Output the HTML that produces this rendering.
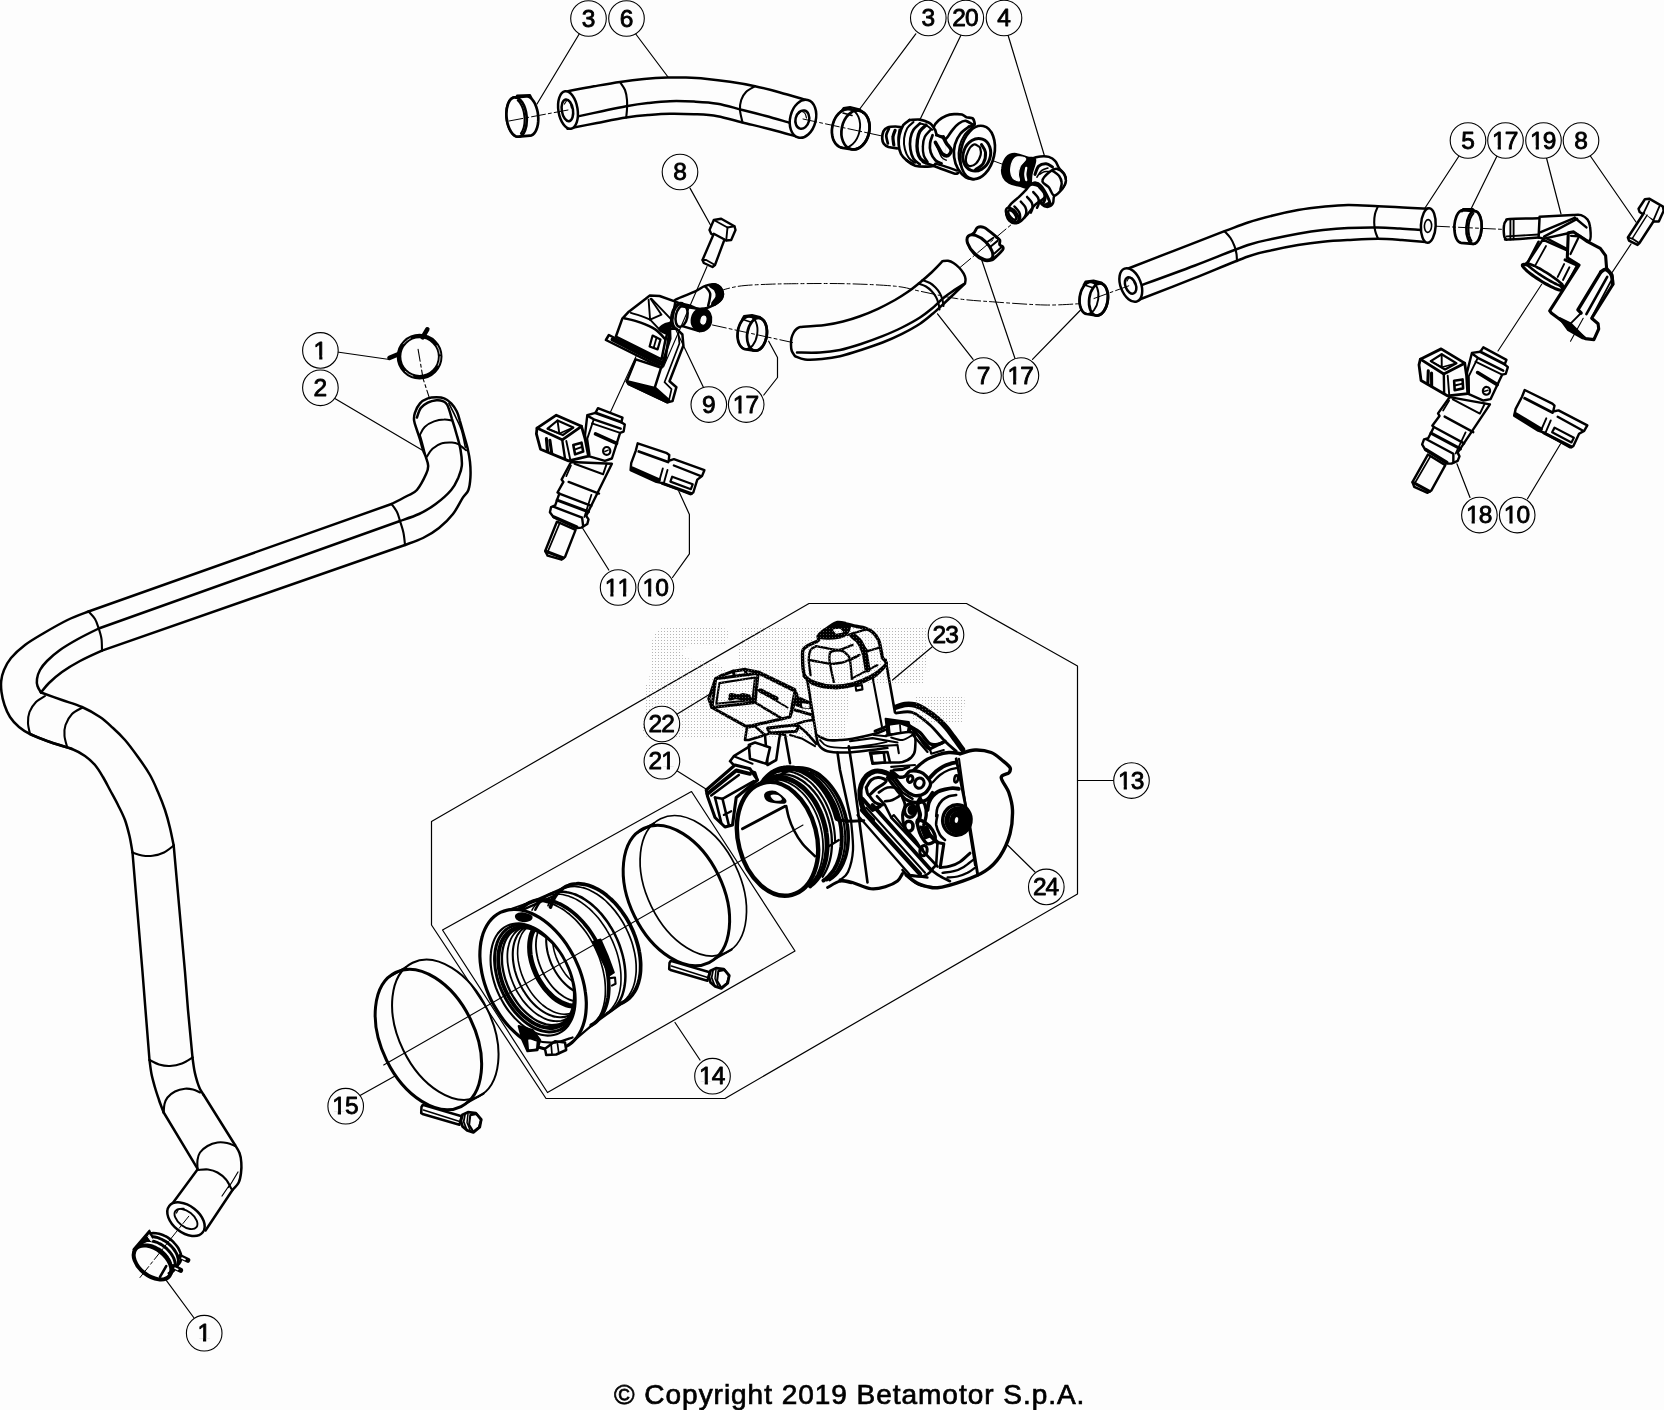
<!DOCTYPE html>
<html><head><meta charset="utf-8"><title>Betamotor throttle body</title>
<style>
html,body{margin:0;padding:0;background:#fdfdfd;}
body{width:1664px;height:1410px;overflow:hidden;position:relative;font-family:"Liberation Sans",sans-serif;}
svg{position:absolute;left:0;top:0;display:block;will-change:transform;}
.lb{font-family:"Liberation Sans",sans-serif;font-size:24.5px;text-anchor:middle;fill:#000;stroke:#000;stroke-width:.85px;}
.cp{position:absolute;left:614px;top:1380px;font-size:28px;letter-spacing:.97px;line-height:30px;white-space:nowrap;color:#000;-webkit-text-stroke:.7px #000;}
</style></head><body>
<svg width="1664" height="1410" viewBox="0 0 1664 1410" fill="none" stroke-linecap="round" stroke-linejoin="round">
<defs>
<pattern id="dots" width="3" height="3" patternUnits="userSpaceOnUse"><rect x="1" y="1" width="1" height="1" fill="#8a8a8a"/></pattern>
</defs>
<path d="M88.5 611.5L391.5 504" fill="none" stroke="#000" stroke-width="2.5" />
<path d="M98.7 628.5L400 521" fill="none" stroke="#000" stroke-width="2.5" />
<path d="M102 650.6L405 545" fill="none" stroke="#000" stroke-width="2.5" />
<path d="M88.5 611.5C89.6 612.8 93.3 616.2 95 619C96.7 621.8 97.6 625.2 98.7 628.5C99.8 631.8 101 635.3 101.5 639C102 642.7 101.9 648.7 102 650.6" fill="none" stroke="#000" stroke-width="2.1" />
<path d="M391.5 504C392.4 505.3 395.6 509.2 397 512C398.4 514.8 398.9 517.5 400 521C401.1 524.5 402.7 529 403.5 533C404.3 537 404.8 543 405 545" fill="none" stroke="#000" stroke-width="2.1" />
<path d="M391.5 504C394.1 502.7 402.8 498.3 407 496C411.2 493.7 413.7 493.7 416.9 490C420.1 486.3 424.4 477.8 426.2 473.8C428.1 469.7 428.2 468.5 428.2 465.9C428.2 463.3 427.1 460.7 426.2 458.1C425.4 455.5 424.2 453.4 423.1 450.3C422.1 447.2 421 442.8 420 439.4C419 436 417.9 433.1 416.9 430C415.9 426.9 414.5 423.5 414.1 420.6C413.8 417.8 413.9 415.7 414.9 412.8C415.9 409.9 417.9 405.8 420 403.4C422.1 401 425.1 399.4 427.8 398.4C430.5 397.3 433.7 397.2 436.4 397.2C439.1 397.2 441.7 397.3 444.2 398.4C446.7 399.4 449.2 401.3 451.2 403.4C453.3 405.6 455.3 408.4 456.7 411.2C458.2 414.1 458.7 416.7 459.8 420.6C461 424.5 462.4 430 463.8 434.7C465.1 439.4 466.6 444.2 467.7 448.8C468.7 453.3 469.5 457.2 470 462C470.5 466.8 470.7 473 470.4 477.7C470.1 482.3 469.7 486.7 468.4 490C467.2 493.3 465.6 493.4 463 497.4C460.4 501.4 457 508.9 453 514C449 519.1 444 524 439 528C434 532 428.7 535.2 423 538C417.3 540.8 408 543.8 405 545" fill="none" stroke="#000" stroke-width="2.5" />
<path d="M416.9 417.5C417.5 415.9 419 410.6 420.8 408.1C422.6 405.7 425.2 404 427.8 402.7C430.4 401.4 433.9 400.6 436.4 400.3C438.9 400.1 440.8 400.3 442.7 401.1C444.5 401.9 445.8 402 447.3 405C448.9 408 450.5 414.1 452 419.1C453.6 424 455.3 429.5 456.7 434.7C458.2 439.9 459.8 445.1 460.6 450.3C461.5 455.5 462.2 461.4 461.8 465.9C461.4 470.5 460 473.6 458.3 477.7C456.5 481.7 455 485.6 451.2 490C447.5 494.4 441.1 500 435.7 504C430.3 508 424.9 511.2 419 514C413.1 516.8 403.2 519.8 400 521" fill="none" stroke="#000" stroke-width="2.5" />
<path d="M448.9 403.4C450.1 405.8 453.9 413.1 455.9 417.5C458 421.9 459.8 425.1 461.4 430C463 434.9 464.7 444.3 465.3 447.2" fill="none" stroke="#000" stroke-width="1.6" />
<path d="M420 434.7C420.5 436.5 422.1 441.7 423.1 445.6C424.2 449.5 425.7 456 426.2 458.1" fill="none" stroke="#000" stroke-width="1.6" />
<path d="M420 434.7C420.8 433.4 422.3 429.1 424.7 426.9C427 424.7 430.8 422.6 434.1 421.4C437.3 420.2 441.2 419.6 444.2 419.5C447.2 419.3 450.7 420.4 452 420.6" fill="none" stroke="#000" stroke-width="2" />
<path d="M427 456.6C427.9 455.3 430 451 432.5 448.8C435 446.5 438.6 444.3 441.9 443.3C445.1 442.2 449.3 442.4 452 442.5C454.8 442.6 455.9 442.8 458.3 444.1C460.6 445.4 464.8 449.3 466.1 450.3" fill="none" stroke="#000" stroke-width="2" />
<path d="M88.5 611.5C85 612.9 74.9 616.4 67.5 620C60.1 623.6 51.1 628.8 44 633C36.9 637.2 30.5 640.8 25 645C19.5 649.2 14.5 653.8 11 658C7.5 662.2 5.6 666.2 4 670C2.4 673.8 1.6 677.3 1.2 681C0.8 684.7 1 688 1.5 692C2 696 3.1 700.8 4.5 705C5.9 709.2 7.6 713.3 10 717C12.4 720.7 15.7 724.2 19 727C22.3 729.8 24.8 731.5 30 734C35.2 736.5 43 739.5 50 742C57 744.5 68.3 747.8 72 749" fill="none" stroke="#000" stroke-width="2.5" />
<path d="M98.7 628.5C95.2 630.2 84.5 635.4 78 639C71.5 642.6 65.2 646.3 60 650C54.8 653.7 50.3 657.7 47 661C43.7 664.3 41.7 667 40 670C38.3 673 37.4 676.3 37 679C36.6 681.7 36.8 683.8 37.5 686C38.2 688.2 40.4 691.4 41 692.5" fill="none" stroke="#000" stroke-width="2.5" />
<path d="M102 650.6C98.3 652.3 86.7 657.4 80 661C73.3 664.6 67.2 668.3 62 672C56.8 675.7 52.5 679.6 49 683C45.5 686.4 42.3 690.9 41 692.5" fill="none" stroke="#000" stroke-width="2.5" />
<path d="M41 692.5C44.5 693.8 55.2 697.6 62 700C68.8 702.4 75.7 704.2 82 707C88.3 709.8 94.8 713.5 100 717C105.2 720.5 108.8 724.2 113 728C117.2 731.8 120.8 735.2 125 740C129.2 744.8 133.8 751.2 138 757C142.2 762.8 146.7 769.2 150 775C153.3 780.8 155.5 786.2 158 792C160.5 797.8 163 804 165 810C167 816 168.6 822.1 170 828C171.4 833.9 173.1 842.6 173.7 845.5" fill="none" stroke="#000" stroke-width="2.5" />
<path d="M30 734C33.3 735.3 43 739.5 50 742C57 744.5 66.2 746.7 72 749C77.8 751.3 81.2 753.3 85 756C88.8 758.7 92 761.5 95 765C98 768.5 100.5 772.8 103 777C105.5 781.2 107.5 785.3 110 790C112.5 794.7 115.5 800 118 805C120.5 810 123.1 814.8 125 820C126.9 825.2 128.2 830.6 129.5 836C130.8 841.4 132 849.8 132.5 852.5" fill="none" stroke="#000" stroke-width="2.5" />
<path d="M45 696C43.5 697 38.6 699.3 36 702C33.4 704.7 30.8 708.5 29.5 712C28.2 715.5 27.9 719.3 28 723C28.1 726.7 29.7 732.2 30 734" fill="none" stroke="#000" stroke-width="2.1" />
<path d="M82.5 707.5C80.8 708.6 74.8 711.1 72 714C69.2 716.9 66.8 721.3 65.5 725C64.2 728.7 64.2 732.4 64.5 736C64.8 739.6 66.6 744.8 67 746.5" fill="none" stroke="#000" stroke-width="2.1" />
<path d="M132.5 852.5L142.5 972L145.5 1010L149.5 1060" fill="none" stroke="#000" stroke-width="2.5" />
<path d="M173.7 845.5L185 972L188 1010L192.5 1057.5" fill="none" stroke="#000" stroke-width="2.5" />
<path d="M132.5 852.5C134.1 853 138.7 855 142 855.5C145.3 856 148.8 856.3 152.5 855.8C156.2 855.3 160.5 854.2 164 852.5C167.5 850.8 172.1 846.7 173.7 845.5" fill="none" stroke="#000" stroke-width="2.1" />
<path d="M149.5 1060C151.1 1060.8 155.6 1063.5 159 1064.5C162.4 1065.5 166.2 1066.2 170 1066C173.8 1065.8 178.2 1064.9 182 1063.5C185.8 1062.1 190.8 1058.5 192.5 1057.5" fill="none" stroke="#000" stroke-width="2.1" />
<path d="M149.5 1060C149.8 1062.3 150.6 1069.4 151.5 1074C152.4 1078.6 153.8 1083.2 155 1087.5C156.2 1091.8 157.6 1095.8 159 1100C160.4 1104.2 162.9 1110.4 163.7 1112.5" fill="none" stroke="#000" stroke-width="2.5" />
<path d="M163.7 1112.5L197.5 1168.7" fill="none" stroke="#000" stroke-width="2.5" />
<path d="M192.5 1057.5C192.8 1059.8 193.7 1066.8 194.5 1071C195.3 1075.2 196.6 1079.5 197.5 1082.5C198.4 1085.5 199 1086.9 200 1089C201 1091.1 203.1 1094 203.7 1095" fill="none" stroke="#000" stroke-width="2.5" />
<path d="M203.7 1095L235 1145" fill="none" stroke="#000" stroke-width="2.5" />
<path d="M235 1145C235.8 1146.3 238.4 1150.1 239.5 1153C240.6 1155.9 241.1 1159.2 241.3 1162.5C241.6 1165.8 241.4 1169.7 241 1173C240.6 1176.3 240.1 1179.7 238.7 1182.5C237.3 1185.3 233.5 1188.8 232.5 1190" fill="none" stroke="#000" stroke-width="2.5" />
<path d="M163.7 1112.5C163.8 1111.1 163.9 1106.5 164.5 1104C165.1 1101.5 165.8 1099.6 167.5 1097.5C169.2 1095.4 172.1 1093 175 1091.5C177.9 1090 182 1089 185 1088.7C188 1088.4 190.5 1088.9 193 1089.5C195.5 1090.1 198.8 1092 200 1092.5" fill="none" stroke="#000" stroke-width="2.1" />
<path d="M197.5 1168.7C197.5 1167.2 197.1 1162.7 197.5 1160C197.9 1157.3 198.3 1154.8 200 1152.5C201.7 1150.2 204.6 1147.7 207.5 1146C210.4 1144.3 214.2 1143 217.5 1142.5C220.8 1142 224.1 1142.4 227 1143C229.9 1143.6 233.7 1145.5 235 1146" fill="none" stroke="#000" stroke-width="2.1" />
<path d="M197.5 1169.5L169.5 1207.5" fill="none" stroke="#000" stroke-width="2.5" />
<path d="M232.5 1190L205.5 1230.5" fill="none" stroke="#000" stroke-width="2.5" />
<path d="M238 1172L232 1182L228.5 1187.5" fill="none" stroke="#000" stroke-width="1.2" />
<path d="M198.7 1170C200.2 1169.9 204.9 1169.1 208 1169.5C211.1 1169.9 214.5 1170.8 217.5 1172.5C220.5 1174.2 223.7 1176.8 226 1179.5C228.3 1182.2 230.4 1187.2 231.3 1188.7" fill="none" stroke="#000" stroke-width="2.1" />
<path d="M229.5 1185L222 1196" fill="none" stroke="#000" stroke-width="1.2" />
<ellipse cx="186" cy="1219.2" rx="21.3" ry="13.4" transform="rotate(38 186 1219.2)" fill="#fdfdfd" stroke="#000" stroke-width="2.5"/>
<ellipse cx="186" cy="1219" rx="13.3" ry="7.6" transform="rotate(38 186 1219)" fill="none" stroke="#000" stroke-width="1.9"/>
<path d="M176.5 1213C176.9 1212.3 177.8 1209.8 179 1209C180.2 1208.2 183.2 1208.6 184 1208.5" fill="none" stroke="#000" stroke-width="1.3" />
<path d="M568 91.2C572.3 90.4 585.3 87.8 594 86.3C602.7 84.8 611.7 83.2 620 82C628.3 80.8 636.1 79.8 644 79C651.9 78.2 660.5 77.7 667.5 77.5C674.5 77.3 679.8 77.4 686 77.6C692.2 77.8 697.7 78 705 78.7C712.3 79.4 721.7 80.5 730 81.8C738.3 83 746.7 84.4 755 86.2C763.3 88 771.5 90.2 780 92.5C788.5 94.8 801.7 98.8 806 100L800 137.5C795.2 136.2 780.6 132 771 129.5C761.4 127 751.4 124.7 742.5 122.5C733.6 120.3 725.6 117.6 717.5 116.2C709.4 114.8 701.9 114.6 694 114.2C686.1 113.8 677.7 113.6 670 113.7C662.3 113.8 655.3 114.4 648 115C640.7 115.6 634.7 116.2 626.2 117.5C617.7 118.8 606.8 121.1 597 123C587.2 124.9 572.4 127.7 567.5 128.7Z" fill="#fdfdfd" stroke="#000" stroke-width="2.5" />
<path d="M578 116.4C582 115.5 594 112.9 602 111.2C610 109.5 618.5 107.6 626.2 106.2C633.9 104.8 640.7 103.8 648 103C655.3 102.2 662.3 101.4 670 101.2C677.7 101 686.1 101.2 694 101.6C701.9 102 709.4 102.3 717.5 103.7C725.6 105.1 734.4 108 742.5 110C750.6 112 758.1 113.9 766 116C773.9 118.1 786 121.7 790 122.8" fill="none" stroke="#000" stroke-width="2.5" />
<path d="M620 82C620.8 83.3 623.8 87 625 90C626.2 93 626.7 96.8 627 100C627.3 103.2 627.1 106.1 627 109C626.9 111.9 626.3 116.1 626.2 117.5" fill="none" stroke="#000" stroke-width="2.1" />
<path d="M755 86.2C753.5 87.2 748.3 89.7 746 92C743.7 94.3 742.2 97 741.2 100C740.2 103 739.8 106.2 740 110C740.2 113.8 742.1 120.4 742.5 122.5" fill="none" stroke="#000" stroke-width="2.1" />
<ellipse cx="568" cy="110" rx="9.6" ry="18.9" transform="rotate(-9 568 110)" fill="#fdfdfd" stroke="#000" stroke-width="2.5"/>
<ellipse cx="567.4" cy="110.3" rx="5.6" ry="11" transform="rotate(-9 567.4 110.3)" fill="none" stroke="#000" stroke-width="2.5"/>
<path d="M564.5 104C564.9 103.4 566.1 100.8 567 100.5C567.9 100.2 569.2 101.2 570 102.5C570.8 103.8 571.2 107.1 571.5 108" fill="none" stroke="#000" stroke-width="1.2" />
<ellipse cx="803" cy="118.8" rx="12.8" ry="19.3" transform="rotate(14 803 118.8)" fill="#fdfdfd" stroke="#000" stroke-width="2.5"/>
<ellipse cx="802.3" cy="119.6" rx="6.8" ry="9.3" transform="rotate(14 802.3 119.6)" fill="none" stroke="#000" stroke-width="2.5"/>
<path d="M798.5 114C799 113.6 800.4 111.6 801.5 111.5C802.6 111.4 804.2 112.4 805 113.5C805.8 114.6 806.2 117.2 806.5 118" fill="none" stroke="#000" stroke-width="1.2" />
<path d="M526.2 96.3L527.8 96.4L529.4 97L530.9 98.1L532.4 99.7L533.8 101.6L535.1 103.9L536.1 106.4L537 109.3L537.7 112.2L538.1 115.3L538.3 118.4L538.2 121.4L537.9 124.3L537.3 127L536.5 129.4L535.5 131.5L534.3 133.2L533 134.5L531.5 135.4L530 135.7L518.5 136.7L516.9 136.6L515.3 136L513.8 134.9L512.3 133.3L510.9 131.4L509.6 129.1L508.6 126.6L507.7 123.7L507 120.8L506.6 117.7L506.4 114.6L506.5 111.6L506.8 108.7L507.4 106L508.2 103.6L509.2 101.5L510.4 99.8L511.7 98.5L513.2 97.6L514.7 97.3Z" fill="#fdfdfd" stroke="#000" stroke-width="2.7" />
<ellipse cx="516.6" cy="117" rx="10" ry="19.8" transform="rotate(-6 516.6 117)" fill="#fdfdfd" stroke="#000" stroke-width="2.7"/>
<path d="M517.7 100.3C518 100.6 518.7 101.2 519.1 101.8C519.6 102.3 520 102.9 520.4 103.6C520.9 104.3 521.2 105 521.6 105.8C522 106.5 522.3 107.3 522.6 108.2C522.9 109 523.2 109.9 523.4 110.8C523.7 111.7 523.9 112.7 524 113.6C524.2 114.6 524.3 115.5 524.4 116.5C524.5 117.4 524.6 118.4 524.6 119.4C524.6 120.3 524.6 121.3 524.5 122.2C524.5 123.1 524.4 124.1 524.2 124.9C524.1 125.8 523.9 126.7 523.7 127.5C523.5 128.3 523.2 129 522.9 129.7C522.7 130.5 522.3 131.1 522 131.7C521.7 132.3 521.1 133.1 520.9 133.4" fill="none" stroke="#000" stroke-width="2" />
<path d="M516 98L517 95.5L530 95L531.5 98" fill="none" stroke="#000" stroke-width="2" />
<path d="M842.6 147.9L840.5 147.4L838.6 146.4L836.8 144.9L835.2 143.1L833.9 140.9L832.9 138.4L832.3 135.7L831.9 132.7L831.9 129.7L832.3 126.7L833 123.6L834 120.7L835.3 118L836.9 115.6L838.7 113.5L840.7 111.7L842.8 110.4L845 109.5L847.2 109.1L849.4 109.1L858.9 110.6L861 111.1L862.9 112.1L864.7 113.6L866.3 115.4L867.6 117.6L868.6 120.1L869.2 122.8L869.6 125.8L869.6 128.8L869.2 131.8L868.5 134.9L867.5 137.8L866.2 140.5L864.6 142.9L862.8 145L860.8 146.8L858.7 148.1L856.5 149L854.3 149.4L852.1 149.4Z" fill="#fdfdfd" stroke="#000" stroke-width="2.7" />
<ellipse cx="846" cy="128.5" rx="13.8" ry="19.7" transform="rotate(12 846 128.5)" fill="none" stroke="#000" stroke-width="1.9"/>
<ellipse cx="855.5" cy="130" rx="13.8" ry="19.7" transform="rotate(12 855.5 130)" fill="none" stroke="#000" stroke-width="2.7"/>
<path d="M841 111.5L843.5 108L850 107L860 109.5L863 113" fill="none" stroke="#000" stroke-width="2" />
<path d="M843 113L852 115.5" fill="none" stroke="#000" stroke-width="1.6" />
<line x1="509" y1="121" x2="568" y2="110" stroke="#000" stroke-width="1" stroke-dasharray="14 3 3 3"/>
<line x1="803" y1="119" x2="896" y2="139" stroke="#000" stroke-width="1" stroke-dasharray="14 3 3 3"/>
<line x1="991" y1="160" x2="1010" y2="167" stroke="#000" stroke-width="1" stroke-dasharray="14 3 3 3"/>
<path d="M901.8 127.4C900.7 127.3 897.9 126.5 895.5 126.5C893.2 126.5 889.7 126.6 887.7 127.4C885.7 128.2 884.3 129.5 883.4 131.3C882.5 133.2 882.2 136.3 882.2 138.4C882.3 140.5 882.8 142.4 883.8 143.8C884.9 145.3 886.3 146.2 888.5 147C890.7 147.7 895.7 148.1 897.1 148.3" fill="#fdfdfd" stroke="#000" stroke-width="2.7" />
<path d="M888.9 128.8C888.5 129.9 886.5 132.8 886.3 135.2C886.1 137.7 887.6 142.1 887.9 143.5" fill="none" stroke="#000" stroke-width="2.7" />
<path d="M895.1 130.4C894.8 131.5 893.2 134.4 893 136.8C892.7 139.2 893.7 143.6 893.8 145" fill="none" stroke="#000" stroke-width="3.2" />
<path d="M899.4 129.8C899.2 131.1 898.3 134.9 898.3 137.6C898.3 140.3 899.2 144.8 899.4 146.2" fill="none" stroke="#000" stroke-width="2" />
<path d="M909.6 120C906.9 120.9 905 122.6 903.3 125.1C901.7 127.6 900.2 132 899.4 135.2C898.7 138.5 898.4 141.5 898.7 144.6C898.9 147.8 899.7 151.4 901 154C902.3 156.6 904.1 158.3 906.5 160.2C908.8 162.2 911 164.7 915.1 165.7C919.1 166.8 927.3 166.8 930.7 166.5C934.1 166.2 933.6 164.7 935.4 164.2C937.2 163.6 939.8 167.7 941.6 163.4C943.4 159.1 947.6 144.5 946.3 138.4C945 132.3 936.7 129.3 933.8 126.7C930.9 124.1 931.5 123.9 929.1 122.8C926.8 121.6 923 120.1 919.8 119.6C916.5 119.2 912.3 119.1 909.6 120Z" fill="#fdfdfd" stroke="#000" stroke-width="0.1" />
<path d="M909.6 120C908.6 120.9 905 122.6 903.3 125.1C901.7 127.6 900.2 132 899.4 135.2C898.7 138.5 898.4 141.5 898.7 144.6C898.9 147.8 899.7 151.4 901 154C902.3 156.6 904.4 158.5 906.5 160.2C908.6 162 912.3 163.6 913.5 164.3" fill="none" stroke="#000" stroke-width="2.7" />
<path d="M909.6 120C911.3 120 916.5 119.2 919.8 119.6C923 120.1 926.8 121.6 929.1 122.8C931.4 123.9 932.7 126.1 933.4 126.8" fill="none" stroke="#000" stroke-width="2.7" />
<path d="M913.5 122C912.5 123 908.8 125.5 907.2 128.2C905.7 131 904.5 134.9 904.1 138.4C903.7 141.9 904.1 146.1 904.9 149.3C905.7 152.6 907.1 155.7 908.8 157.9C910.5 160.1 914 161.9 915.1 162.8" fill="none" stroke="#000" stroke-width="2" />
<path d="M919.8 123.5C918.7 124.6 915.1 127.3 913.5 129.8C911.9 132.3 910.9 135.1 910.4 138.4C909.9 141.6 909.9 145.9 910.4 149.3C910.9 152.7 911.9 156.2 913.5 158.7C915.1 161.2 918.7 163.4 919.8 164.3" fill="none" stroke="#000" stroke-width="2.7" />
<path d="M926 125.1C925 126.1 921.2 128.9 919.8 131.3C918.3 133.8 917.8 136.7 917.4 139.9C917 143.2 916.9 147.8 917.4 150.9C917.9 154 919.1 156.7 920.5 158.7C922 160.7 925.1 162.1 926 162.8" fill="none" stroke="#000" stroke-width="3.4" />
<path d="M930.7 129.8C929.7 131 926.1 134.1 924.8 136.8C923.5 139.5 923 143.1 922.9 146.2C922.7 149.3 923 152.9 923.8 155.6C924.6 158.2 926.9 160.9 927.6 162" fill="none" stroke="#000" stroke-width="2.4" />
<path d="M906.5 160.2C907.9 161.2 911 164.7 915.1 165.7C919.1 166.8 927.3 166.7 930.7 166.5C934.1 166.3 934.6 164.7 935.4 164.3" fill="none" stroke="#000" stroke-width="2.7" />
<path d="M919.8 123.5C920.8 123.8 923.9 124.1 926 125.1C928.1 126.1 931.2 129 932.2 129.8" fill="none" stroke="#000" stroke-width="2" />
<path d="M932.6 135.2C932.2 136.6 930.4 140.2 930.1 143.1C929.7 145.9 929.8 149.6 930.7 152.4C931.6 155.3 933.6 158.4 935.4 160.2C937.2 162.1 940.6 163 941.6 163.5" fill="none" stroke="#000" stroke-width="2.7" />
<path d="M922.9 162C925.5 162.9 933.3 165.7 938.5 167.7C943.7 169.6 950.8 172.7 954.1 173.5C957.4 174.4 957.7 172.9 958.4 172.8" fill="none" stroke="#000" stroke-width="2.7" />
<path d="M935.4 163.5C937.2 164.1 942.7 165.7 946.3 166.9C950 168.1 955.4 170 957.2 170.6" fill="none" stroke="#000" stroke-width="2.2" />
<path d="M933.8 126.8C934.3 125.1 936.4 122.3 938.5 120.4C940.6 118.6 943.7 116.8 946.3 115.7C948.9 114.7 951.5 114.4 954.1 114.2C956.7 114 959.9 114 961.9 114.5C964 115.1 964.8 116.6 966.6 117.3C968.4 117.9 971.6 117.1 972.9 118.5C974.1 119.8 975.4 124.9 974.2 125.2C973 125.6 968.4 121.1 965.8 120.8C963.3 120.5 961 122 958.8 123.5C956.6 125 954.6 127.3 952.6 129.8C950.5 132.3 948 137.1 946.3 138.4C944.6 139.7 944 138.2 942.4 137.6C940.8 137 938.1 135.8 936.9 134.6C935.8 133.5 935.9 131.9 935.4 130.6C934.9 129.3 933.3 128.5 933.8 126.8Z" fill="#fdfdfd" stroke="#000" stroke-width="2.7" />
<path d="M935.4 142.3C935.9 143.2 937.3 145.8 938.5 147.8C939.7 149.7 940.8 152.7 942.4 154C944 155.3 946.4 156.2 947.9 155.6C949.3 154.9 951.4 152.2 951.2 150.1C950.9 148 947.6 145.2 946.3 143.1C945 140.9 943.8 138 943.3 137" fill="none" stroke="#000" stroke-width="3.6" />
<path d="M936.2 135.2L943.2 136.8" fill="none" stroke="#000" stroke-width="2.6" />
<path d="M936.2 144.6C937.1 146.7 939.9 154.5 941.6 157.1C943.3 159.7 945.5 159.7 946.3 160.2" fill="none" stroke="#000" stroke-width="1.4" />
<path d="M969 126.7C967.5 127.8 962.7 130.7 960.4 133.7C958 136.7 955.9 140.7 954.9 144.6C953.9 148.5 953.6 153.1 954.1 157.1C954.6 161.2 956.1 165.5 958 168.8C960 172.2 963.2 175.7 965.8 177.4C968.5 179.2 972.5 178.9 973.8 179.2" fill="none" stroke="#000" stroke-width="2.7" />
<path d="M972.1 127.4C970.8 128.7 966.4 132.1 964.3 135.2C962.2 138.4 960.5 142.3 959.6 146.2C958.7 150.1 958.3 154.8 958.8 158.7C959.3 162.6 960.9 166.6 962.7 169.6C964.5 172.6 968.6 175.6 969.8 176.8" fill="none" stroke="#000" stroke-width="2" />
<path d="M969 126.7L972.9 126" fill="none" stroke="#000" stroke-width="2.7" />
<ellipse cx="977.6" cy="152.4" rx="16.8" ry="27" transform="rotate(12 977.6 152.4)" fill="#fdfdfd" stroke="#000" stroke-width="2.7"/>
<ellipse cx="976.8" cy="154.8" rx="13.5" ry="16.6" transform="rotate(20 976.8 154.8)" fill="none" stroke="#000" stroke-width="3"/>
<path d="M978.3 146.2C977.3 145.7 975.3 143.8 973.7 144.6C972 145.4 969.5 148.3 968.2 150.9C966.9 153.5 965.7 157.8 965.8 160.2C966 162.8 967.3 165.3 969 165.9C970.7 166.4 974 165.4 976 163.5C978 161.7 980 157.4 980.7 154.8C981.4 152.2 980.5 149.2 980.1 147.8C979.7 146.3 979.4 146.7 978.3 146.2Z" fill="none" stroke="#000" stroke-width="2.2" />
<path d="M981.5 144.6C982.1 145.9 985.2 149.3 985.5 152.4C985.8 155.6 984.9 160.5 983.2 163.4C981.5 166.3 976.7 168.7 975.4 169.8" fill="none" stroke="#000" stroke-width="3" />
<path d="M1031.3 159.7C1033.5 156.7 1037.6 156.9 1040.5 156.4C1043.5 156 1046.4 156.1 1048.8 156.9C1051.3 157.7 1053.6 159.2 1055.3 161.1C1057 162.9 1057.4 165.7 1059 168C1060.5 170.2 1063.4 172.3 1064.5 174.4C1065.7 176.6 1066.2 178.6 1065.9 180.9C1065.6 183.2 1064.6 185.8 1062.7 188.3C1060.7 190.7 1056 193.2 1054.4 195.6C1052.8 198.1 1054.1 201.2 1053 203C1051.9 204.9 1049.7 206.4 1047.9 206.7C1046.1 207 1043.8 206.2 1042.4 204.9C1041 203.5 1041.6 201.2 1039.6 198.4C1037.6 195.6 1032.4 192.3 1030.4 188.3C1028.4 184.3 1027.5 179.2 1027.6 174.4C1027.8 169.7 1029.2 162.7 1031.3 159.7Z" fill="#fdfdfd" stroke="#000" stroke-width="2.5" />
<path d="M1042.4 180.9C1042.5 178.3 1047.3 173.7 1049.8 171.7C1052.2 169.7 1054.8 168.6 1057.1 168.9C1059.4 169.2 1062.1 171.5 1063.6 173.5C1065 175.5 1066 178.4 1065.9 180.9C1065.7 183.3 1064.6 185.8 1062.7 188.3C1060.7 190.7 1056.7 195.8 1054.4 195.6C1052.1 195.5 1050.8 189.8 1048.8 187.3C1046.8 184.9 1042.2 183.5 1042.4 180.9Z" fill="#fdfdfd" stroke="#000" stroke-width="2.5" />
<path d="M1052.5 170.7C1053.6 171.6 1057.4 173.8 1059 175.8C1060.5 177.8 1061.5 180.5 1061.7 182.7C1062 185 1060.6 188.1 1060.4 189.2" fill="none" stroke="#000" stroke-width="2.5" />
<path d="M1035 174.4C1035.6 173 1036.9 167.9 1038.7 166.1C1040.5 164.4 1043.8 163.7 1046.1 163.8C1048.4 164 1051.5 166.5 1052.5 167" fill="none" stroke="#000" stroke-width="3" />
<path d="M1036.9 177.2C1037.6 176.1 1039.6 172.3 1041.5 170.7C1043.3 169.2 1046.8 168.4 1047.9 168" fill="none" stroke="#000" stroke-width="1.6" />
<path d="M1039.6 174.4C1040.4 174 1042.5 172.1 1044.2 171.7C1045.9 171.2 1048.8 171.7 1049.8 171.7" fill="none" stroke="#000" stroke-width="1.6" />
<path d="M1006.4 157.8C1008.5 155.4 1011.2 154.1 1014.7 154.1C1018.3 154.1 1024.3 156.9 1027.6 157.8C1031 158.8 1034.4 156.9 1035 159.7C1035.6 162.4 1032.2 169.8 1031.3 174.4C1030.4 179 1031.5 185.5 1029.5 187.3C1027.5 189.2 1022.7 186.3 1019.3 185.5C1016 184.7 1011.8 184.1 1009.2 182.7C1006.6 181.3 1004.8 179.5 1003.7 177.2C1002.5 174.9 1001.8 172.1 1002.3 168.9C1002.7 165.7 1004.4 160.3 1006.4 157.8Z" fill="#000" stroke="#000" stroke-width="2.5" />
<path d="M1012.4 161.5C1013.6 159.2 1015.3 157.4 1017.5 156.9C1019.7 156.4 1025.3 157.2 1025.8 158.8C1026.2 160.3 1021.5 163.5 1020.3 166.1C1019 168.7 1018.6 172 1018.4 174.4C1018.3 176.9 1020.3 180.3 1019.3 180.9C1018.4 181.5 1014.3 179.8 1012.9 178.1C1011.4 176.4 1010.7 173.5 1010.6 170.7C1010.5 168 1011.3 163.8 1012.4 161.5Z" fill="#fdfdfd" stroke="#fdfdfd" stroke-width="1.1" />
<path d="M1026.2 168C1026.1 169 1025.3 172.4 1025.3 174.4C1025.3 176.4 1026.1 179 1026.2 180" fill="none" stroke="#fdfdfd" stroke-width="2.3" />
<path d="M1031.3 184.6C1033.8 184.1 1038.3 185.8 1040.5 187.3C1042.8 188.9 1044.2 191.9 1044.7 193.8C1045.2 195.6 1045.4 196.6 1043.8 198.4C1042.2 200.2 1037.7 202.2 1035 204.9C1032.3 207.5 1030.1 211.3 1027.6 214.1C1025.2 216.8 1022.4 219.9 1020.3 221.4C1018.1 223 1016.6 223.4 1014.7 223.3C1012.9 223.1 1010.6 221.9 1009.2 220.5C1007.8 219.1 1006.8 216.7 1006.4 215C1006 213.3 1006.1 212.2 1006.9 210.4C1007.7 208.5 1009 206.2 1011 203.9C1013.1 201.6 1016.9 198.9 1019.3 196.6C1021.8 194.2 1023.8 192.1 1025.8 190.1C1027.8 188.1 1028.9 185 1031.3 184.6Z" fill="#fdfdfd" stroke="#000" stroke-width="2.5" />
<path d="M1039.6 187.3C1040.4 188.3 1043.3 191 1044.2 192.9C1045.1 194.7 1045.3 196.7 1045.1 198.4C1045 200.1 1043.6 202.2 1043.3 203" fill="none" stroke="#000" stroke-width="3" />
<path d="M1033.3 192.1C1034.1 193.1 1037 195.8 1038 197.7C1038.9 199.5 1039 201.5 1038.9 203.2C1038.7 204.9 1037.3 207 1037 207.8" fill="none" stroke="#000" stroke-width="2.5" />
<path d="M1027.1 196.9C1027.8 197.8 1030.8 200.6 1031.7 202.5C1032.6 204.3 1032.8 206.3 1032.6 208C1032.5 209.7 1031.1 211.8 1030.8 212.6" fill="none" stroke="#000" stroke-width="2.5" />
<path d="M1020.8 201.7C1021.6 202.6 1024.5 205.4 1025.4 207.2C1026.3 209.1 1026.5 211.1 1026.3 212.8C1026.2 214.5 1024.8 216.6 1024.5 217.4" fill="none" stroke="#000" stroke-width="2.5" />
<path d="M1014.5 206.5C1015.3 207.4 1018.2 210.2 1019.1 212C1020.1 213.9 1020.2 215.9 1020.1 217.6C1019.9 219.3 1018.5 221.4 1018.2 222.2" fill="none" stroke="#000" stroke-width="2.5" />
<path d="M1015.9 212.2C1016.1 212.6 1017.1 214 1017.6 214.9C1018 215.9 1018.4 216.9 1018.5 217.7C1018.6 218.6 1018.6 219.4 1018.5 220.1C1018.3 220.8 1017.9 221.3 1017.5 221.7C1017 222.1 1016.4 222.3 1015.7 222.3C1015 222.3 1014.2 222.1 1013.4 221.7C1012.6 221.4 1011.7 220.8 1010.9 220.2C1010.1 219.5 1009.3 218.7 1008.6 217.8C1007.9 217 1007.3 216 1006.9 215C1006.4 214.1 1006.1 213.1 1006 212.3C1005.8 211.4 1005.8 210.6 1006 209.9C1006.2 209.2 1006.5 208.7 1007 208.3C1007.5 207.9 1008.1 207.7 1008.8 207.7C1009.5 207.7 1010.3 207.9 1011.1 208.3C1011.9 208.6 1012.8 209.2 1013.6 209.8C1014.4 210.5 1015.5 211.8 1015.9 212.2C1016.2 212.6 1015.6 211.7 1015.9 212.2Z" fill="#fdfdfd" stroke="#000" stroke-width="2.5" />
<path d="M1014.3 213.4C1014.5 213.8 1015.4 215.1 1015.8 215.9C1016.1 216.7 1016.3 217.5 1016.4 218.2C1016.4 218.8 1016.1 219.3 1015.8 219.6C1015.5 219.8 1014.9 219.9 1014.3 219.8C1013.7 219.6 1012.9 219.2 1012.2 218.7C1011.6 218.1 1010.8 217.4 1010.2 216.6C1009.6 215.8 1009 214.9 1008.7 214.1C1008.3 213.3 1008.1 212.4 1008.1 211.8C1008.1 211.2 1008.3 210.7 1008.7 210.4C1009 210.2 1009.6 210.1 1010.2 210.2C1010.8 210.4 1011.5 210.8 1012.2 211.3C1012.9 211.8 1013.9 213 1014.3 213.4C1014.6 213.7 1014 213 1014.3 213.4Z" fill="#fdfdfd" stroke="#000" stroke-width="2.5" />
<path d="M1030.4 184.6C1031.2 184.3 1033.3 182.6 1035 182.7C1036.7 182.9 1038.5 183.3 1040.5 185.5C1042.5 187.6 1045.5 192.7 1047 195.6C1048.5 198.6 1049.8 201.2 1049.8 203C1049.8 204.9 1047.5 206.1 1047 206.7" fill="none" stroke="#000" stroke-width="3" />
<path d="M1040.5 203C1041.2 203.3 1042.8 204.9 1044.2 204.9C1045.6 204.9 1048.1 203.3 1048.8 203" fill="none" stroke="#000" stroke-width="2.5" />
<path d="M800 327C804.2 326.7 817.8 325.9 825 325C832.2 324.1 837.2 323 843 321.5C848.8 320 854.2 318.3 860 316.2C865.8 314.1 872.2 311.5 878 308.8C883.8 306.1 890 302.8 895 300C900 297.2 903.8 294.7 908 291.8C912.2 288.9 916 285.8 920 282.5C924 279.2 928.2 275.6 932 272C935.8 268.4 940.8 263 942.5 261.2L942.5 261.2C943.4 261.1 946.2 260.5 948 260.8C949.8 261.1 951.6 261.8 953.5 263C955.4 264.2 957.8 266.2 959.5 268C961.2 269.8 962.7 271.9 963.7 273.7C964.7 275.5 965.3 277.4 965.5 279C965.7 280.6 965.1 282.8 965 283.5L965 283.5C963.3 285.1 958.3 289.8 955 293C951.7 296.2 948.7 299.1 945 302.5C941.3 305.9 937.2 310 933 313.5C928.8 317 925.2 320.3 920 323.7C914.8 327.1 908.2 330.7 902 333.8C895.8 336.9 889.3 339.8 882.5 342.5C875.7 345.2 868.1 347.7 861 350C853.9 352.3 846.5 354.7 840 356.2C833.5 357.7 827.8 358.4 822 359C816.2 359.6 809.5 360 805 359.5C800.5 359 796.7 356.8 795 356.2L795 356.2C794.5 355.3 792.5 352.9 791.8 351C791.1 349.1 791 347.2 791 345C791 342.8 791 340.1 791.5 338C792 335.9 792.9 334 793.7 332.5C794.5 331 795.5 329.9 796.5 329C797.5 328.1 799.4 327.3 800 327Z" fill="#fdfdfd" stroke="#000" stroke-width="2.5" />
<path d="M797 352.5C800.8 352.5 812.8 352.9 820 352.5C827.2 352.1 833.2 351.4 840 350C846.8 348.6 853.9 346.3 861 344C868.1 341.7 875.7 338.9 882.5 336.2C889.3 333.4 895.8 330.6 902 327.5C908.2 324.4 915 320.7 920 317.5C925 314.3 928.2 311.6 932 308.5C935.8 305.4 939 301.6 942.5 298.7C946 295.8 949.4 293.4 953 291C956.6 288.6 962.2 285.2 964 284" fill="none" stroke="#000" stroke-width="2.5" />
<path d="M922.5 280C923.8 280.5 927.8 281.8 930 283C932.2 284.2 933.8 285.8 935.5 287.5C937.2 289.2 938.8 291.4 940 293.5C941.2 295.6 941.9 297.9 942.5 300C943.1 302.1 943.3 305 943.5 306" fill="none" stroke="#000" stroke-width="2.1" />
<path d="M918.5 283.5C919.8 284 923.8 285.2 926 286.5C928.2 287.8 929.8 289.2 931.5 291C933.2 292.8 934.8 294.9 936 297C937.2 299.1 937.9 301.4 938.5 303.5C939.1 305.6 939.3 308.5 939.5 309.5" fill="none" stroke="#000" stroke-width="2.1" />
<path d="M1125.7 269.5C1133.9 266.3 1158.5 256.7 1175 250.3C1191.5 243.9 1212.3 235.8 1224.5 231.2C1236.7 226.6 1239.9 225.1 1248 222.5C1256.1 219.9 1264.7 217.6 1273 215.5C1281.3 213.4 1289.7 211.5 1298 210C1306.3 208.5 1314.7 207.5 1323 206.7C1331.3 205.9 1338.8 205.1 1348 205C1357.2 204.9 1368.8 205.8 1378 206.2C1387.2 206.6 1394.7 207.1 1403 207.5C1411.3 207.9 1423.8 208.5 1428 208.7L1425.5 242C1421.6 241.7 1409.9 240.6 1402 240C1394.1 239.4 1387 238.7 1378 238.7C1369 238.7 1357.2 239.5 1348 240C1338.8 240.5 1331.3 240.9 1323 241.7C1314.7 242.5 1306.3 243.6 1298 245C1289.7 246.4 1281.3 248.1 1273 250C1264.7 251.9 1261.3 251.7 1248 256.5C1234.7 261.3 1211.3 271.4 1193 278.7C1174.7 285.9 1147.3 296.4 1138.2 300Z" fill="#fdfdfd" stroke="#000" stroke-width="2.5" />
<path d="M1142 285C1150.8 281.8 1177.3 272.2 1195 265.5C1212.7 258.8 1235 249.4 1248 245C1261 240.6 1264.7 240.7 1273 238.8C1281.3 236.9 1289.7 235.2 1298 233.7C1306.3 232.2 1314.7 230.9 1323 230C1331.3 229.1 1338.8 228.4 1348 228C1357.2 227.6 1369.3 227.4 1378 227.5C1386.7 227.6 1392.5 228.1 1400 228.5C1407.5 228.9 1419.2 229.8 1423 230" fill="none" stroke="#000" stroke-width="2.5" />
<path d="M1224.5 231.2C1225.5 232.3 1228.8 235.5 1230.5 238C1232.2 240.5 1233.5 243.5 1234.5 246.2C1235.5 248.9 1236.1 251.5 1236.5 254C1236.9 256.5 1236.9 260 1237 261.2" fill="none" stroke="#000" stroke-width="2.1" />
<path d="M1378 206.2C1377.5 207.5 1375.6 211.3 1375 214C1374.4 216.7 1374.2 219.7 1374.2 222.5C1374.2 225.3 1374.6 228.3 1375.2 231C1375.8 233.7 1377.5 237.4 1378 238.7" fill="none" stroke="#000" stroke-width="2.1" />
<ellipse cx="1130.8" cy="285" rx="10.2" ry="17.6" transform="rotate(-21 1130.8 285)" fill="#fdfdfd" stroke="#000" stroke-width="2.5"/>
<ellipse cx="1130.6" cy="285.4" rx="5.2" ry="8.6" transform="rotate(-21 1130.6 285.4)" fill="none" stroke="#000" stroke-width="2.5"/>
<path d="M1127 281C1127.4 280.4 1128.5 277.8 1129.5 277.5C1130.5 277.2 1132.2 277.9 1133 279C1133.8 280.1 1134.2 283.2 1134.5 284" fill="none" stroke="#000" stroke-width="1.2" />
<ellipse cx="1428.3" cy="225.5" rx="7.4" ry="17.3" transform="rotate(3 1428.3 225.5)" fill="#fdfdfd" stroke="#000" stroke-width="2.5"/>
<ellipse cx="1428" cy="226" rx="3.6" ry="6.4" transform="rotate(3 1428 226)" fill="none" stroke="#000" stroke-width="1.6"/>
<path d="M745 349.1L743.6 348.7L742.2 347.8L740.9 346.6L739.8 345L738.9 343.2L738.2 341.1L737.8 338.7L737.5 336.3L737.6 333.7L737.8 331.2L738.3 328.6L739.1 326.2L740 323.9L741.1 321.9L742.4 320.1L743.8 318.6L745.3 317.5L746.9 316.8L748.4 316.4L750 316.5L759.5 318L760.9 318.4L762.3 319.3L763.6 320.5L764.7 322.1L765.6 323.9L766.3 326L766.7 328.4L767 330.8L766.9 333.4L766.7 335.9L766.2 338.5L765.4 340.9L764.5 343.2L763.4 345.2L762.1 347L760.7 348.5L759.2 349.6L757.6 350.3L756.1 350.7L754.5 350.6Z" fill="#fdfdfd" stroke="#000" stroke-width="2.7" />
<ellipse cx="747.5" cy="332.8" rx="9.8" ry="16.5" transform="rotate(8 747.5 332.8)" fill="none" stroke="#000" stroke-width="1.9"/>
<ellipse cx="757" cy="334.3" rx="9.8" ry="16.5" transform="rotate(8 757 334.3)" fill="none" stroke="#000" stroke-width="2.7"/>
<path d="M742 319.5L744 316L752 315L760 317L763 320" fill="none" stroke="#000" stroke-width="2" />
<path d="M744.5 320L752 322.5" fill="none" stroke="#000" stroke-width="1.5" />
<path d="M1086.6 314L1085.2 313.6L1083.9 312.8L1082.7 311.6L1081.7 310L1080.8 308.2L1080.2 306.1L1079.7 303.9L1079.5 301.5L1079.6 299L1079.8 296.4L1080.3 293.9L1081 291.6L1081.9 289.3L1083 287.3L1084.2 285.6L1085.6 284.1L1087 283L1088.5 282.3L1089.9 281.9L1091.4 282L1100.9 283.5L1102.3 283.9L1103.6 284.7L1104.8 285.9L1105.8 287.5L1106.7 289.3L1107.3 291.4L1107.8 293.6L1108 296L1107.9 298.5L1107.7 301.1L1107.2 303.6L1106.5 305.9L1105.6 308.2L1104.5 310.2L1103.3 311.9L1101.9 313.4L1100.5 314.5L1099 315.2L1097.6 315.6L1096.1 315.5Z" fill="#fdfdfd" stroke="#000" stroke-width="2.7" />
<ellipse cx="1089" cy="298" rx="9.3" ry="16.2" transform="rotate(8 1089 298)" fill="none" stroke="#000" stroke-width="1.9"/>
<ellipse cx="1098.5" cy="299.5" rx="9.3" ry="16.2" transform="rotate(8 1098.5 299.5)" fill="none" stroke="#000" stroke-width="2.7"/>
<path d="M1083.5 285L1085.5 281.5L1093.5 280.5L1101.5 282.5L1104.5 285.5" fill="none" stroke="#000" stroke-width="2" />
<path d="M1086 285.5L1093.5 288" fill="none" stroke="#000" stroke-width="1.5" />
<path d="M1460.9 242.8L1459.7 242.4L1458.6 241.7L1457.6 240.6L1456.7 239.1L1455.9 237.4L1455.2 235.3L1454.8 233.1L1454.5 230.7L1454.4 228.2L1454.4 225.6L1454.7 223.1L1455.1 220.6L1455.8 218.3L1456.5 216.2L1457.4 214.4L1458.4 212.8L1459.5 211.6L1460.7 210.8L1461.9 210.3L1463.1 210.2L1475.1 211.2L1476.3 211.6L1477.4 212.3L1478.4 213.4L1479.3 214.9L1480.1 216.6L1480.8 218.7L1481.2 220.9L1481.5 223.3L1481.6 225.8L1481.6 228.4L1481.3 230.9L1480.9 233.4L1480.2 235.7L1479.5 237.8L1478.6 239.6L1477.6 241.2L1476.5 242.4L1475.3 243.2L1474.1 243.7L1472.9 243.8Z" fill="#fdfdfd" stroke="#000" stroke-width="2.7" />
<ellipse cx="1474" cy="227.5" rx="7.6" ry="16.3" transform="rotate(3 1474 227.5)" fill="#fdfdfd" stroke="#000" stroke-width="2.7"/>
<path d="M1471.6 240.9C1471.4 240.7 1471 240 1470.7 239.5C1470.4 239 1470.2 238.4 1469.9 237.8C1469.7 237.2 1469.5 236.6 1469.3 235.9C1469.2 235.2 1469 234.5 1468.9 233.8C1468.8 233.1 1468.7 232.3 1468.6 231.5C1468.6 230.8 1468.5 230 1468.5 229.2C1468.5 228.4 1468.5 227.6 1468.6 226.8C1468.6 226 1468.7 225.2 1468.8 224.4C1468.9 223.7 1469.1 222.9 1469.2 222.1C1469.4 221.4 1469.6 220.7 1469.8 220C1470 219.3 1470.3 218.6 1470.5 218C1470.8 217.4 1471.1 216.8 1471.4 216.3C1471.7 215.7 1472 215.2 1472.4 214.8C1472.7 214.3 1473.2 213.8 1473.4 213.6" fill="none" stroke="#000" stroke-width="2" />
<path d="M1462 211.5L1463 209L1473 209L1475 211.5" fill="none" stroke="#000" stroke-width="2" />
<path d="M974.1 232.7C975.5 231.1 975.9 228.5 977.5 227.6C979.1 226.7 981.7 226.7 983.8 227.4C985.8 228 988.1 230.3 990 231.7C991.9 233.1 993.7 234.7 995.3 236C996.9 237.4 998.9 238.4 999.7 239.9C1000.4 241.3 999.2 243.6 999.7 244.7C1000.1 245.8 1002.1 245.8 1002.6 246.6C1003 247.5 1003.9 248.1 1002.6 250C1001.2 251.9 996.2 256.5 994.4 258.2C992.5 259.9 993.2 259.8 991.5 260.1C989.7 260.5 986.6 261.3 983.8 260.1C980.9 259 976.7 256.1 974.1 253.4C971.5 250.7 969.1 246.5 968.3 243.8C967.5 241 968.3 238.8 969.3 237C970.3 235.2 972.7 234.2 974.1 232.7Z" fill="#fdfdfd" stroke="#000" stroke-width="2.9" />
<ellipse cx="979.9" cy="247.4" rx="16.2" ry="8" transform="rotate(44 979.9 247.4)" fill="#fdfdfd" stroke="#000" stroke-width="3"/>
<path d="M987.6 241.8L993.4 237.7" fill="none" stroke="#000" stroke-width="2" />
<path d="M991 246.2L997.5 240.9" fill="none" stroke="#000" stroke-width="2" />
<path d="M994.4 253.4L1001.1 247.6" fill="none" stroke="#000" stroke-width="2" />
<path d="M995.3 236L998.2 238.9" fill="none" stroke="#000" stroke-width="2.4" />
<line x1="712.5" y1="325" x2="792.5" y2="342.5" stroke="#000" stroke-width="1" stroke-dasharray="14 3 3 3"/>
<line x1="960" y1="267.5" x2="1012" y2="224" stroke="#000" stroke-width="1" stroke-dasharray="14 3 3 3"/>
<line x1="1094" y1="298.5" x2="1131" y2="285" stroke="#000" stroke-width="1" stroke-dasharray="14 3 3 3"/>
<line x1="1435.5" y1="226.2" x2="1505.5" y2="229.5" stroke="#000" stroke-width="1" stroke-dasharray="14 3 3 3"/>
<path d="M716 292C718.3 291.3 725.2 289.1 730 288C734.8 286.9 738.3 286.1 745 285.5C751.7 284.9 761.7 284.5 770 284.2C778.3 283.9 782.5 283.8 795 283.7C807.5 283.6 828.3 283.3 845 283.7C861.7 284.1 882.5 284.9 895 286.2C907.5 287.4 909.6 289.1 920 291.2C930.4 293.3 945 296.9 957.5 298.7C970 300.5 980.4 300.9 995 302C1009.6 303.1 1030.8 304.7 1045 305C1059.2 305.3 1074.2 303.9 1080 303.7" fill="none" stroke="#000" stroke-width="1" stroke-dasharray="14 3 3 3"/>
<circle cx="419.6" cy="356.6" r="20.6" fill="none" stroke="#000" stroke-width="4.6"/>
<circle cx="419.6" cy="356.6" r="20.6" fill="none" stroke="#fdfdfd" stroke-width="0.7" stroke-dasharray="9 30"/>
<line x1="422.6" y1="337.3" x2="427.3" y2="329.3" stroke="#000" stroke-width="4.6" />
<line x1="389.5" y1="357.8" x2="398.5" y2="354.2" stroke="#000" stroke-width="4.6" />
<path d="M418.1 349.4L423.1 378.7L429.6 398.7" fill="none" stroke="#000" stroke-width="1.1" stroke-dasharray="12 3 3 3"/>
<path d="M146.4 1235.8C146.7 1235.5 147.6 1234.8 148.3 1234.4C149 1234 149.7 1233.7 150.6 1233.5C151.4 1233.3 152.3 1233.2 153.2 1233.1C154.1 1233.1 155.1 1233.1 156.1 1233.2C157.1 1233.3 158.1 1233.5 159.1 1233.7C160.2 1234 161.3 1234.4 162.3 1234.8C163.4 1235.2 164.4 1235.7 165.5 1236.2C166.5 1236.8 167.6 1237.4 168.6 1238.1C169.6 1238.8 170.6 1239.5 171.5 1240.3C172.4 1241.1 173.3 1241.9 174.1 1242.8C175 1243.7 175.7 1244.6 176.4 1245.5C177.1 1246.4 177.8 1247.4 178.4 1248.3C178.9 1249.3 179.4 1250.2 179.8 1251.2C180.2 1252.1 180.5 1253.1 180.8 1254C181 1255 181.1 1255.9 181.2 1256.8C181.2 1257.6 181.2 1258.5 181.1 1259.3C180.9 1260.1 180.7 1260.8 180.4 1261.5C180.1 1262.2 179.7 1262.9 179.2 1263.5C178.7 1264 178.2 1264.6 177.6 1265C176.9 1265.4 175.8 1265.9 175.5 1266.1" fill="none" stroke="#000" stroke-width="2.6" />
<path d="M143.6 1239.3C143.9 1239.1 144.8 1238.3 145.5 1237.9C146.2 1237.6 146.9 1237.3 147.8 1237C148.6 1236.8 149.5 1236.7 150.4 1236.6C151.3 1236.6 152.3 1236.6 153.3 1236.7C154.3 1236.8 155.3 1237 156.3 1237.3C157.4 1237.5 158.5 1237.9 159.5 1238.3C160.6 1238.7 161.6 1239.2 162.7 1239.8C163.7 1240.3 164.8 1240.9 165.8 1241.6C166.8 1242.3 167.8 1243 168.7 1243.8C169.6 1244.6 170.5 1245.5 171.3 1246.3C172.2 1247.2 172.9 1248.1 173.6 1249C174.3 1249.9 175 1250.9 175.5 1251.8C176.1 1252.8 176.6 1253.8 177 1254.7C177.4 1255.7 177.7 1256.6 177.9 1257.6C178.2 1258.5 178.3 1259.4 178.4 1260.3C178.4 1261.1 178.4 1262 178.2 1262.8C178.1 1263.6 177.9 1264.4 177.6 1265.1C177.3 1265.8 176.9 1266.4 176.4 1267C175.9 1267.6 175.4 1268.1 174.8 1268.5C174.1 1269 173 1269.4 172.7 1269.6" fill="none" stroke="#000" stroke-width="3" />
<path d="M140.5 1243.2C140.8 1243 141.7 1242.2 142.4 1241.8C143.1 1241.5 143.8 1241.2 144.6 1241C145.5 1240.7 146.3 1240.6 147.3 1240.5C148.2 1240.5 149.2 1240.5 150.2 1240.6C151.1 1240.7 152.2 1240.9 153.2 1241.2C154.3 1241.4 155.3 1241.8 156.4 1242.2C157.5 1242.6 158.5 1243.1 159.6 1243.7C160.6 1244.2 161.7 1244.9 162.7 1245.5C163.7 1246.2 164.6 1247 165.6 1247.7C166.5 1248.5 167.4 1249.4 168.2 1250.2C169 1251.1 169.8 1252 170.5 1252.9C171.2 1253.8 171.9 1254.8 172.4 1255.7C173 1256.7 173.5 1257.7 173.9 1258.6C174.3 1259.6 174.6 1260.5 174.8 1261.5C175.1 1262.4 175.2 1263.3 175.3 1264.2C175.3 1265.1 175.3 1265.9 175.1 1266.7C175 1267.5 174.8 1268.3 174.5 1269C174.2 1269.7 173.8 1270.3 173.3 1270.9C172.8 1271.5 172.3 1272 171.6 1272.4C171 1272.9 169.9 1273.3 169.6 1273.5" fill="none" stroke="#000" stroke-width="3" />
<path d="M133.4 1249.4L149.4 1230.6L152.5 1237.5L141.2 1243.8Z" fill="#000" stroke="#000" stroke-width="2" />
<path d="M149.4 1235L152.5 1240L151.2 1241.2L148.1 1236.9Z" fill="#fdfdfd" stroke="#fdfdfd" stroke-width="1" />
<ellipse cx="152.5" cy="1262.5" rx="21.6" ry="13.3" transform="rotate(38.5 152.5 1262.5)" fill="none" stroke="#000" stroke-width="4"/>
<path d="M145.1 1244.7C145.5 1244.7 146.7 1244.6 147.6 1244.6C148.5 1244.7 149.4 1244.8 150.4 1245C151.3 1245.2 152.3 1245.5 153.3 1245.8C154.2 1246.2 155.2 1246.6 156.2 1247.1C157.2 1247.6 158.2 1248.1 159.1 1248.7C160 1249.3 161 1250 161.9 1250.7C162.7 1251.4 163.6 1252.2 164.4 1252.9C165.2 1253.7 166 1254.6 166.6 1255.4C167.3 1256.2 168 1257.1 168.5 1258C169.1 1258.8 169.6 1259.7 170 1260.6C170.4 1261.5 170.7 1262.4 171 1263.2C171.2 1264.1 171.4 1264.9 171.5 1265.7C171.6 1266.5 171.6 1267.3 171.5 1268C171.4 1268.8 171.2 1269.5 171 1270.1C170.7 1270.7 170.4 1271.3 170 1271.8C169.5 1272.4 168.7 1273 168.5 1273.2" fill="none" stroke="#000" stroke-width="2" />
<line x1="180" y1="1256.6" x2="187.8" y2="1260.3" stroke="#000" stroke-width="5" />
<line x1="181.9" y1="1258.1" x2="185" y2="1259.5" stroke="#000" stroke-width="1.6" style="stroke:#fdfdfd"/>
<line x1="173.1" y1="1266.6" x2="180.6" y2="1270.3" stroke="#000" stroke-width="5" />
<line x1="175" y1="1268.1" x2="177.8" y2="1269.5" stroke="#000" stroke-width="1.6" style="stroke:#fdfdfd"/>
<line x1="160" y1="1276.9" x2="166.2" y2="1266.2" stroke="#000" stroke-width="2.6" />
<line x1="140" y1="1277.5" x2="188.8" y2="1216.2" stroke="#000" stroke-width="1" stroke-dasharray="14 3 3 3"/>
<path d="M713.8 220L721.2 218.8L734.5 226.2L735.5 230L731.2 240L726.2 240.5L711.2 233.8L709.5 230Z" fill="#fdfdfd" stroke="#000" stroke-width="2.4" />
<path d="M713.8 220L727.5 227.5L734.5 226.2" fill="none" stroke="#000" stroke-width="1.9" />
<path d="M727.5 227.5L726.2 240.5" fill="none" stroke="#000" stroke-width="1.9" />
<path d="M713.8 233.8L702.5 260L703.8 263L712.5 267L715 265L724.5 239.5Z" fill="#fdfdfd" stroke="#000" stroke-width="2.4" />
<path d="M702.5 260L706.2 260L715 265" fill="none" stroke="#000" stroke-width="1.8" />
<path d="M675.4 299.8C678.3 297.9 690.3 293.7 695.3 291.4C700.3 289 701.9 287 705.2 285.9C708.5 284.7 712.4 283.8 715.2 284.4C717.9 285 720.5 287.1 721.6 289.4C722.8 291.6 723.2 295.3 722.1 297.8C721 300.3 718.8 302.4 715.2 304.3C711.5 306.2 704.4 309 700.3 309.2C696.1 309.5 694 306.8 690.3 305.7C686.7 304.7 680.9 303.8 678.4 302.8C675.9 301.8 672.6 301.7 675.4 299.8Z" fill="#fdfdfd" stroke="#000" stroke-width="2.5" />
<path d="M710.2 285.9C710.2 285 713.3 283.8 715.2 284.4C717.1 285 720.5 287.1 721.6 289.4C722.8 291.6 723.2 295.3 722.1 297.8C721 300.3 716.8 303.3 715.2 304.3C713.5 305.3 711.9 305 712.2 303.8C712.4 302.5 716.2 299.1 716.7 296.8C717.2 294.5 716.2 291.7 715.2 289.9C714.1 288 710.2 286.8 710.2 285.9Z" fill="#000" stroke="#000" stroke-width="2.5" />
<path d="M705.2 286.4C706.1 287.6 709.7 290.6 710.2 293.8C710.7 297.1 708.5 303.8 708.2 305.7" fill="none" stroke="#000" stroke-width="2.5" />
<path d="M628.8 311.7L645.7 298.8L649.6 295.6L659.6 296L675.4 301.6L672.5 317.7L669.5 325.6L665.5 339.5L661.5 359.4L615.9 336.5L622.3 318.7Z" fill="#fdfdfd" stroke="#000" stroke-width="2.5" />
<path d="M648.6 299.8L650.1 319.7L661.5 314.7L650.6 298.8" fill="none" stroke="#000" stroke-width="1.9" />
<path d="M651.6 298.8L670.5 318.7" fill="none" stroke="#000" stroke-width="1.9" />
<path d="M650.1 319.7L659.6 329.6" fill="none" stroke="#000" stroke-width="1.9" />
<path d="M630.8 312.9C632.4 313.4 637.5 314.8 640.7 315.9C643.9 317 648.5 319 650.1 319.7" fill="none" stroke="#000" stroke-width="1.9" />
<path d="M624.3 318.2C627 318.9 635.5 320.7 640.7 322.6C645.9 324.5 651.4 326.8 655.6 329.6C659.7 332.4 663.9 337.9 665.5 339.5" fill="none" stroke="#000" stroke-width="2.5" />
<path d="M652.6 335.5L660.5 339.5L657.6 349.4L649.6 346.5Z" fill="none" stroke="#000" stroke-width="2.2" />
<path d="M656.6 337.5L653.6 348" fill="none" stroke="#000" stroke-width="1.8" />
<ellipse cx="681.6" cy="316.2" rx="5.8" ry="10.8" transform="rotate(12 681.6 316.2)" fill="#fdfdfd" stroke="#000" stroke-width="2.5"/>
<path d="M681.4 306.2L701.3 309.2" fill="none" stroke="#000" stroke-width="2.5" />
<path d="M682.4 326.1L699.3 331.1" fill="none" stroke="#000" stroke-width="2.5" />
<ellipse cx="701.5" cy="319.9" rx="9.6" ry="11.2" transform="rotate(12 701.5 319.9)" fill="#000" stroke="#000" stroke-width="2.5"/>
<ellipse cx="703.4" cy="320.1" rx="3.6" ry="5.2" transform="rotate(12 703.4 320.1)" fill="#fdfdfd" stroke="#000" stroke-width="1.2"/>
<path d="M674.1 327.5C673.9 327.2 673.3 326.3 672.9 325.6C672.6 324.9 672.3 324 672.1 323.1C671.9 322.2 671.8 321.2 671.8 320.2C671.7 319.2 671.8 318 671.9 317C672 315.9 672.2 314.7 672.5 313.7C672.8 312.6 673.2 311.5 673.6 310.6C674 309.6 674.5 308.7 675 307.8C675.5 307 676.1 306.3 676.7 305.7C677.3 305.1 677.9 304.6 678.5 304.2C679.1 303.9 679.8 303.7 680.4 303.6C681 303.5 681.6 303.6 682.2 303.8C682.7 304 683.4 304.7 683.7 304.9" fill="none" stroke="#000" stroke-width="3.6" />
<path d="M659.6 329.6C659.2 328 663.5 325.1 665.5 324.1C667.5 323.1 670.8 322.7 671.5 323.6C672.1 324.5 670.1 327.9 669.5 329.6C668.8 331.2 669.2 333.6 667.5 333.6C665.8 333.6 659.9 331.2 659.6 329.6Z" fill="#000" stroke="#000" stroke-width="2.5" />
<path d="M608.9 335L664.5 363.3L662 367.8L605.9 340Z" fill="#fdfdfd" stroke="#000" stroke-width="2.5" />
<path d="M612.4 339.5L659.6 363.8" fill="none" stroke="#000" stroke-width="3.8" />
<path d="M620.8 339.5L655.6 357.4" fill="none" stroke="#000" stroke-width="1.7" />
<path d="M669.5 329.1L676.4 328.6L682.4 334.5L683.4 345.5L669.5 381.2L676.4 387.2L672.5 401.1L667.5 402.3L628.8 384.2L626.8 381.2L635.7 359.4L661.5 367.8L665.5 359.4Z" fill="#fdfdfd" stroke="#000" stroke-width="2.5" />
<path d="M670 329.6L670.3 338.5L654.6 388.2" fill="none" stroke="#000" stroke-width="2.5" />
<path d="M678.4 333.6L679.4 343.5L664.5 382.2L671.5 389.2L669 400.1" fill="none" stroke="#000" stroke-width="1.7" />
<path d="M626.8 381.2L655.6 388.2L669 400.1L667.5 402.3L628.8 384.2Z" fill="#000" stroke="#000" stroke-width="2.5" />
<path d="M635.7 359.4L628.8 376.3" fill="none" stroke="#000" stroke-width="1.4" />
<line x1="707" y1="266.5" x2="663.5" y2="367" stroke="#000" stroke-width="1.1" />
<line x1="636" y1="356.5" x2="610.5" y2="412" stroke="#000" stroke-width="1.1" />
<path d="M1644.9 199.2L1649.2 198.7L1663 206.6L1663.6 210.9L1658.8 221.5L1654.5 221.5L1639.6 212L1638.6 208.8Z" fill="#fdfdfd" stroke="#000" stroke-width="2.5" />
<path d="M1649.2 201.3L1643.7 212.8" fill="none" stroke="#000" stroke-width="1.8" />
<path d="M1659.3 206.6L1653.7 219.6" fill="none" stroke="#000" stroke-width="1.8" />
<path d="M1643.9 213L1627.9 237.5L1629 240.7L1637.5 244.9L1639.6 242.8L1653.4 221.5" fill="#fdfdfd" stroke="#000" stroke-width="2.5" />
<path d="M1627.9 237.5L1632.2 238.6L1638.6 242.8" fill="none" stroke="#000" stroke-width="1.8" />
<path d="M1647.1 215.1L1632.2 238.6" fill="none" stroke="#000" stroke-width="1.4" />
<path d="M1538.6 218.3C1533.8 218.4 1515.2 218.5 1509.8 218.9C1504.4 219.3 1507.1 219.7 1506.1 220.7C1505.1 221.7 1504.4 222.3 1504.1 224.7C1503.7 227.2 1503.8 233.1 1504.1 235.4C1504.3 237.7 1504.9 237.8 1505.6 238.6C1506.3 239.3 1502.7 239.8 1508.2 239.6C1513.7 239.4 1533.5 237.8 1538.6 237.5" fill="#fdfdfd" stroke="#000" stroke-width="2.5" />
<path d="M1510.4 219.2L1510.4 239.4" fill="none" stroke="#000" stroke-width="1.9" />
<path d="M1513.6 219L1513.6 239.2" fill="none" stroke="#000" stroke-width="1.9" />
<path d="M1506.6 236.4L1538.6 234.5" fill="none" stroke="#000" stroke-width="1.9" />
<path d="M1539.6 216.7L1572.6 215.1L1572.6 215.1C1574 215.1 1578.6 214.4 1581.1 215.1C1583.6 215.9 1586 217.7 1587.5 219.6C1589 221.6 1589.8 223.3 1590.1 226.9C1590.5 230.4 1591.5 239.3 1589.6 240.7C1587.8 242.1 1580.8 236.2 1579 235.4L1572.6 232.2L1568.3 233.2L1543.9 238.6L1538.6 237.5Z" fill="#fdfdfd" stroke="#000" stroke-width="2.5" />
<path d="M1540.7 232.2L1574.7 217.8" fill="none" stroke="#000" stroke-width="2.5" />
<path d="M1544.1 236.6L1577.1 218.9" fill="none" stroke="#000" stroke-width="2.5" />
<path d="M1574.7 217.8L1586.4 227.4" fill="none" stroke="#000" stroke-width="2.5" />
<path d="M1542.8 239.6L1569.4 251.3L1577.9 264.1L1564.1 289.6L1522.6 266.2L1527.9 262Z" fill="#fdfdfd" stroke="#000" stroke-width="2.5" />
<path d="M1538.6 241.7L1527.9 262" fill="none" stroke="#000" stroke-width="2.5" />
<path d="M1546 246L1535.4 265.1" fill="none" stroke="#000" stroke-width="1.8" />
<path d="M1547.1 238.6L1570.5 250.8" fill="none" stroke="#000" stroke-width="2.5" />
<path d="M1563.2 290.1C1563 290.2 1562.6 290.5 1561.9 290.5C1561.3 290.5 1560.4 290.4 1559.4 290.1C1558.3 289.8 1557.1 289.3 1555.7 288.8C1554.3 288.2 1552.8 287.5 1551.1 286.7C1549.5 285.9 1547.8 284.9 1546 284C1544.3 283 1542.4 281.9 1540.7 280.8C1538.9 279.7 1537.1 278.5 1535.5 277.4C1533.8 276.2 1532.2 275.1 1530.8 274C1529.4 272.9 1528 271.8 1526.9 270.8C1525.8 269.8 1524.8 268.9 1524.1 268.1C1523.4 267.3 1522.9 266.5 1522.6 266C1522.3 265.4 1522.3 265 1522.5 264.7C1522.6 264.4 1523.1 264.2 1523.7 264.2C1524.3 264.2 1525.2 264.4 1526.2 264.7C1527.3 265 1528.5 265.4 1529.9 266C1531.3 266.6 1532.9 267.3 1534.5 268.1C1536.1 268.9 1537.8 269.8 1539.6 270.8C1541.3 271.8 1543.2 272.9 1544.9 274C1546.7 275.1 1548.5 276.3 1550.1 277.4C1551.8 278.5 1553.4 279.7 1554.8 280.8C1556.3 281.9 1557.6 283 1558.7 284C1559.8 285 1560.8 285.9 1561.5 286.7C1562.2 287.5 1562.7 288.2 1563 288.8C1563.3 289.4 1563.1 289.9 1563.2 290.1C1563.2 290.3 1563.4 290 1563.2 290.1Z" fill="#fdfdfd" stroke="#000" stroke-width="3.1" />
<path d="M1563 286.1C1562.8 286.1 1562.5 286.3 1562 286.3C1561.5 286.2 1560.8 286 1559.9 285.7C1559 285.4 1557.9 284.9 1556.8 284.4C1555.6 283.8 1554.3 283.1 1552.9 282.4C1551.5 281.7 1549.9 280.8 1548.4 279.9C1546.9 279.1 1545.3 278.1 1543.8 277.1C1542.2 276.2 1540.7 275.2 1539.2 274.2C1537.8 273.2 1536.3 272.2 1535.1 271.3C1533.8 270.4 1532.6 269.4 1531.6 268.6C1530.6 267.8 1529.7 267 1529 266.4C1528.4 265.8 1527.9 265.2 1527.6 264.8C1527.3 264.3 1527.2 264 1527.3 263.8C1527.5 263.6 1527.8 263.6 1528.3 263.6C1528.8 263.7 1529.5 263.9 1530.4 264.2C1531.3 264.5 1532.4 265 1533.5 265.5C1534.7 266.1 1536 266.7 1537.4 267.5C1538.8 268.2 1540.4 269 1541.9 269.9C1543.4 270.8 1545 271.8 1546.5 272.7C1548.1 273.7 1549.6 274.7 1551.1 275.7C1552.5 276.7 1554 277.7 1555.2 278.6C1556.5 279.5 1557.7 280.4 1558.7 281.2C1559.7 282.1 1560.6 282.8 1561.3 283.5C1561.9 284.1 1562.4 284.7 1562.7 285.1C1563 285.5 1562.9 285.9 1563 286.1C1563 286.2 1563.1 286 1563 286.1Z" fill="#fdfdfd" stroke="#000" stroke-width="2.6" />
<path d="M1565.1 259.8L1576.9 265.1L1579 269.4L1569.4 286.4" fill="none" stroke="#000" stroke-width="3.1" />
<path d="M1564.1 264.1L1557.7 276.9" fill="none" stroke="#000" stroke-width="1.9" />
<path d="M1569.4 267.3L1563 280" fill="none" stroke="#000" stroke-width="1.9" />
<path d="M1568.3 232.7L1573.7 231.9L1587.5 241.7L1600.3 248.3L1605.6 255.6L1606.6 268.3L1612 274.7L1613 284.3L1591.7 318.3L1598.1 323.7L1598.7 329L1593.9 339.6L1585.4 338.6L1551.3 313L1549.7 310.9L1579 265.1L1567.3 257.7Z" fill="#fdfdfd" stroke="#000" stroke-width="3.1" />
<path d="M1571 235.9L1579 236.4L1570.5 254" fill="none" stroke="#000" stroke-width="2.2" />
<path d="M1600.8 272.1L1577.9 309.8L1581.1 313" fill="none" stroke="#000" stroke-width="3.4" />
<path d="M1607.2 276.9L1586.4 314.1" fill="none" stroke="#000" stroke-width="2.6" />
<path d="M1610.9 281.1L1591.7 317.3" fill="none" stroke="#000" stroke-width="1.8" />
<path d="M1600.8 272.1C1601.6 271.6 1603.8 268.9 1605.6 269.4C1607.3 269.9 1610.3 272.8 1611.4 275.3C1612.6 277.7 1612.3 282.8 1612.5 284.3" fill="none" stroke="#000" stroke-width="3.6" />
<path d="M1559.8 318.3L1570.5 323.7L1585.4 338.6L1582.2 338L1568.3 330Z" fill="#000" stroke="#000" stroke-width="2.5" />
<path d="M1581.1 313L1570.5 323.7" fill="none" stroke="#000" stroke-width="1.8" />
<line x1="1631.1" y1="243.9" x2="1612" y2="272.6" stroke="#000" stroke-width="1.1" />
<line x1="1583.2" y1="318.3" x2="1570.5" y2="341.2" stroke="#000" stroke-width="1.1" />
<line x1="1541.7" y1="284.3" x2="1498" y2="351" stroke="#000" stroke-width="1.1" />
<path d="M556.9 521.7L545.2 551L547.6 555.6L561.6 559.7L565.1 556.8L575.6 529.9Z" fill="#fdfdfd" stroke="#000" stroke-width="2.4" />
<path d="M559.8 522.9L547.8 551.6" fill="none" stroke="#000" stroke-width="1.7" />
<path d="M545.8 551.2L563.4 558" fill="none" stroke="#000" stroke-width="3.1" />
<path d="M571 462L561.6 479.6L563.4 481.9L557.5 492.5L559.3 493.6L555.2 505.3L551.1 507.1L549.9 512.3L553.4 517L576.8 528.1L581.5 527.6L587.3 524L588.5 519.4L586.2 515.9L611.9 463.8Z" fill="#fdfdfd" stroke="#000" stroke-width="2.4" />
<path d="M568.6 481.9L599 493.6" fill="none" stroke="#000" stroke-width="2.4" />
<path d="M559.3 493.6L591.4 505.9" fill="none" stroke="#000" stroke-width="2.4" />
<path d="M557.2 500.1L588.5 511.8" fill="none" stroke="#000" stroke-width="3.1" />
<path d="M553.4 506.7L582.1 517.6L583.2 526.4" fill="none" stroke="#000" stroke-width="2.4" />
<path d="M554 517L576.8 527" fill="none" stroke="#000" stroke-width="3.4" />
<path d="M591.4 494.8L584.4 517" fill="none" stroke="#000" stroke-width="1.8" />
<path d="M574.5 463.8L603.1 474.3L606.7 463.8" fill="none" stroke="#000" stroke-width="2" />
<path d="M571 465.5L566.3 476.1" fill="none" stroke="#000" stroke-width="1.7" />
<path d="M597.9 408.2L622.5 417.6L621.3 422.2L624.8 424.6L623.6 431.6L620.1 432.8L611.9 458.5L604.9 460.9L588.5 456.2L585 435.1L587.3 415.2L595.5 412.9Z" fill="#fdfdfd" stroke="#000" stroke-width="2.4" />
<path d="M595.5 412.9L621.3 422.2" fill="none" stroke="#000" stroke-width="2.9" />
<path d="M588.5 416.4L593.8 419.3L620.7 428.7" fill="none" stroke="#000" stroke-width="2.4" />
<path d="M592 423.4L620.1 432.8" fill="none" stroke="#000" stroke-width="1.9" />
<path d="M595.5 433.9L616.6 443.3" fill="none" stroke="#000" stroke-width="3.6" />
<path d="M593.8 419.3L587.3 438.6L589.7 455" fill="none" stroke="#000" stroke-width="1.9" />
<ellipse cx="606.7" cy="450.9" rx="3.6" ry="3.9" transform="rotate(0 606.7 450.9)" fill="#fdfdfd" stroke="#000" stroke-width="2.2"/>
<path d="M604.9 451.5L608.2 450.1" fill="none" stroke="#000" stroke-width="1.4" />
<path d="M537 428.1L556.3 415.2L581.5 426.3L585 438.6L588.5 456.2L568.6 460.9L540.5 449.2L536.4 433.9Z" fill="#fdfdfd" stroke="#000" stroke-width="2.8" />
<path d="M537 428.1L562.2 439.8L581.5 426.3" fill="none" stroke="#000" stroke-width="2.8" />
<path d="M562.2 439.8L565.1 459.1" fill="none" stroke="#000" stroke-width="2.4" />
<path d="M566.3 441L570.4 460.3" fill="none" stroke="#000" stroke-width="1.9" />
<path d="M547.6 428.7L557.5 420.5L573.3 427.5L562.8 435.1Z" fill="none" stroke="#000" stroke-width="2.2" />
<path d="M557.5 420.5L559.3 433.4" fill="none" stroke="#000" stroke-width="1.9" />
<path d="M547.6 428.7L559.3 433.4L573.3 427.5" fill="none" stroke="#000" stroke-width="1.6" />
<path d="M546.4 438.6L547.6 451.5" fill="none" stroke="#000" stroke-width="3.1" />
<path d="M549.9 440.4L551.7 453.2" fill="none" stroke="#000" stroke-width="3.1" />
<path d="M573.3 445.1L581.5 442.7L583.2 451.5L575.1 454.4Z" fill="none" stroke="#000" stroke-width="2.6" />
<path d="M574.5 449.7L582.1 446.8" fill="none" stroke="#000" stroke-width="1.9" />
<path d="M637.7 443.3L666.9 453.2L669.3 455L668.7 460.9L673.9 459.1L704.4 470.2L702 476.1L697.3 479.6L693.3 492.5L690.3 494.2L662.2 483.1L656.4 481.9L630.6 470.2L631.2 463.2L635.9 450.3Z" fill="#fdfdfd" stroke="#000" stroke-width="2.4" />
<path d="M632 468.5L658.7 480.2" fill="none" stroke="#000" stroke-width="4.1" />
<path d="M638.8 451.5L668.1 462" fill="none" stroke="#000" stroke-width="2.9" />
<path d="M673.9 465.5L700.9 476.1" fill="none" stroke="#000" stroke-width="2.4" />
<path d="M662.8 468.5L659.3 480.7" fill="none" stroke="#000" stroke-width="1.9" />
<path d="M667.5 470L664 482.5" fill="none" stroke="#000" stroke-width="1.9" />
<path d="M672.2 476.7L692.7 484.3L690.9 489.2L670.4 481.6Z" fill="none" stroke="#000" stroke-width="2.2" />
<path d="M662.2 483.3L691.5 493.6" fill="none" stroke="#000" stroke-width="3.1" />
<g transform="translate(884.7 -59.2) rotate(7.5 610.75 412.9)">
<path d="M556.9 521.7L545.2 551L547.6 555.6L561.6 559.7L565.1 556.8L575.6 529.9Z" fill="#fdfdfd" stroke="#000" stroke-width="2.4" />
<path d="M559.8 522.9L547.8 551.6" fill="none" stroke="#000" stroke-width="1.7" />
<path d="M545.8 551.2L563.4 558" fill="none" stroke="#000" stroke-width="3.1" />
<path d="M571 462L561.6 479.6L563.4 481.9L557.5 492.5L559.3 493.6L555.2 505.3L551.1 507.1L549.9 512.3L553.4 517L576.8 528.1L581.5 527.6L587.3 524L588.5 519.4L586.2 515.9L611.9 463.8Z" fill="#fdfdfd" stroke="#000" stroke-width="2.4" />
<path d="M568.6 481.9L599 493.6" fill="none" stroke="#000" stroke-width="2.4" />
<path d="M559.3 493.6L591.4 505.9" fill="none" stroke="#000" stroke-width="2.4" />
<path d="M557.2 500.1L588.5 511.8" fill="none" stroke="#000" stroke-width="3.1" />
<path d="M553.4 506.7L582.1 517.6L583.2 526.4" fill="none" stroke="#000" stroke-width="2.4" />
<path d="M554 517L576.8 527" fill="none" stroke="#000" stroke-width="3.4" />
<path d="M591.4 494.8L584.4 517" fill="none" stroke="#000" stroke-width="1.8" />
<path d="M574.5 463.8L603.1 474.3L606.7 463.8" fill="none" stroke="#000" stroke-width="2" />
<path d="M571 465.5L566.3 476.1" fill="none" stroke="#000" stroke-width="1.7" />
<path d="M597.9 408.2L622.5 417.6L621.3 422.2L624.8 424.6L623.6 431.6L620.1 432.8L611.9 458.5L604.9 460.9L588.5 456.2L585 435.1L587.3 415.2L595.5 412.9Z" fill="#fdfdfd" stroke="#000" stroke-width="2.4" />
<path d="M595.5 412.9L621.3 422.2" fill="none" stroke="#000" stroke-width="2.9" />
<path d="M588.5 416.4L593.8 419.3L620.7 428.7" fill="none" stroke="#000" stroke-width="2.4" />
<path d="M592 423.4L620.1 432.8" fill="none" stroke="#000" stroke-width="1.9" />
<path d="M595.5 433.9L616.6 443.3" fill="none" stroke="#000" stroke-width="3.6" />
<path d="M593.8 419.3L587.3 438.6L589.7 455" fill="none" stroke="#000" stroke-width="1.9" />
<ellipse cx="606.7" cy="450.9" rx="3.6" ry="3.9" transform="rotate(0 606.7 450.9)" fill="#fdfdfd" stroke="#000" stroke-width="2.2"/>
<path d="M604.9 451.5L608.2 450.1" fill="none" stroke="#000" stroke-width="1.4" />
<path d="M537 428.1L556.3 415.2L581.5 426.3L585 438.6L588.5 456.2L568.6 460.9L540.5 449.2L536.4 433.9Z" fill="#fdfdfd" stroke="#000" stroke-width="2.8" />
<path d="M537 428.1L562.2 439.8L581.5 426.3" fill="none" stroke="#000" stroke-width="2.8" />
<path d="M562.2 439.8L565.1 459.1" fill="none" stroke="#000" stroke-width="2.4" />
<path d="M566.3 441L570.4 460.3" fill="none" stroke="#000" stroke-width="1.9" />
<path d="M547.6 428.7L557.5 420.5L573.3 427.5L562.8 435.1Z" fill="none" stroke="#000" stroke-width="2.2" />
<path d="M557.5 420.5L559.3 433.4" fill="none" stroke="#000" stroke-width="1.9" />
<path d="M547.6 428.7L559.3 433.4L573.3 427.5" fill="none" stroke="#000" stroke-width="1.6" />
<path d="M546.4 438.6L547.6 451.5" fill="none" stroke="#000" stroke-width="3.1" />
<path d="M549.9 440.4L551.7 453.2" fill="none" stroke="#000" stroke-width="3.1" />
<path d="M573.3 445.1L581.5 442.7L583.2 451.5L575.1 454.4Z" fill="none" stroke="#000" stroke-width="2.6" />
<path d="M574.5 449.7L582.1 446.8" fill="none" stroke="#000" stroke-width="1.9" />
</g>
<g transform="translate(887 -53.3) rotate(7.5 637.7 443.3)">
<path d="M637.7 443.3L666.9 453.2L669.3 455L668.7 460.9L673.9 459.1L704.4 470.2L702 476.1L697.3 479.6L693.3 492.5L690.3 494.2L662.2 483.1L656.4 481.9L630.6 470.2L631.2 463.2L635.9 450.3Z" fill="#fdfdfd" stroke="#000" stroke-width="2.4" />
<path d="M632 468.5L658.7 480.2" fill="none" stroke="#000" stroke-width="4.1" />
<path d="M638.8 451.5L668.1 462" fill="none" stroke="#000" stroke-width="2.9" />
<path d="M673.9 465.5L700.9 476.1" fill="none" stroke="#000" stroke-width="2.4" />
<path d="M662.8 468.5L659.3 480.7" fill="none" stroke="#000" stroke-width="1.9" />
<path d="M667.5 470L664 482.5" fill="none" stroke="#000" stroke-width="1.9" />
<path d="M672.2 476.7L692.7 484.3L690.9 489.2L670.4 481.6Z" fill="none" stroke="#000" stroke-width="2.2" />
<path d="M662.2 483.3L691.5 493.6" fill="none" stroke="#000" stroke-width="3.1" />
</g>
<path d="M431.5 821.5L809 603.5L966.5 603.5L1077.5 666L1077.5 894L725 1098.5L546 1098.5L431.5 925Z" fill="none" stroke="#000" stroke-width="1.2" />
<path d="M442.5 930L691.5 791.5L795 951L547.5 1092.5Z" fill="none" stroke="#000" stroke-width="1.2" />
<ellipse cx="445.3" cy="1029.8" rx="46.7" ry="74.6" transform="rotate(-26 445.3 1029.8)" fill="none" stroke="#000" stroke-width="2"/>
<ellipse cx="428.4" cy="1039.5" rx="46.7" ry="74.6" transform="rotate(-26 428.4 1039.5)" fill="none" stroke="#000" stroke-width="3"/>
<path d="M388.9 977L405.8 967.4" fill="none" stroke="#000" stroke-width="2.3" />
<path d="M466.6 1103L483.6 1093.4" fill="none" stroke="#000" stroke-width="2.3" />
<path d="M422.7 1104.9L421.5 1106.9L421.2 1113.1L423.4 1114.3L459.4 1124.8L461.7 1116.2Z" fill="#fdfdfd" stroke="#000" stroke-width="2.5" />
<path d="M423.4 1110L460.5 1121.7" fill="none" stroke="#000" stroke-width="1.5" />
<path d="M462.5 1114.7L468 1112.2L475.8 1113.1L481.2 1119.4L479.7 1127.2L473.4 1132.3L467.2 1130.3L462.5 1126.4L460.9 1120.9Z" fill="#fdfdfd" stroke="#000" stroke-width="2.8" />
<path d="M470.3 1115.1L476.6 1113.9L481.2 1120.2L478.9 1127.2L473.4 1131.9L469.1 1124.8Z" fill="none" stroke="#000" stroke-width="2.1" />
<path d="M465 1114.7L463.7 1121.7L466.4 1128.8" fill="none" stroke="#000" stroke-width="1.8" />
<path d="M468 1113.9L467 1122.5L470.3 1130.7" fill="none" stroke="#000" stroke-width="1.5" />
<ellipse cx="693.3" cy="885.8" rx="46.7" ry="74.6" transform="rotate(-26 693.3 885.8)" fill="none" stroke="#000" stroke-width="1.7"/>
<ellipse cx="676.4" cy="895.5" rx="46.7" ry="74.6" transform="rotate(-26 676.4 895.5)" fill="none" stroke="#000" stroke-width="3"/>
<path d="M636.9 833L653.8 823.4" fill="none" stroke="#000" stroke-width="2.3" />
<path d="M714.6 959L731.6 949.4" fill="none" stroke="#000" stroke-width="2.3" />
<path d="M670.7 960.9L669.5 962.9L669.2 969.1L671.4 970.3L707.4 980.8L709.7 972.2Z" fill="#fdfdfd" stroke="#000" stroke-width="2.5" />
<path d="M671.4 966L708.5 977.7" fill="none" stroke="#000" stroke-width="1.5" />
<path d="M710.5 970.7L716 968.2L723.8 969.1L729.2 975.4L727.7 983.2L721.4 988.3L715.2 986.3L710.5 982.4L708.9 976.9Z" fill="#fdfdfd" stroke="#000" stroke-width="2.8" />
<path d="M718.3 971.1L724.6 969.9L729.2 976.2L726.9 983.2L721.4 987.9L717.1 980.8Z" fill="none" stroke="#000" stroke-width="2.1" />
<path d="M713 970.7L711.7 977.7L714.4 984.8" fill="none" stroke="#000" stroke-width="1.8" />
<path d="M716 969.9L715 978.5L718.3 986.7" fill="none" stroke="#000" stroke-width="1.5" />
<path d="M563.2 888.1L567.9 885.6L573 884.2L578.5 883.7L584.3 884.3L590.2 885.9L596.3 888.5L602.3 892.1L608.1 896.6L613.8 901.9L619.1 907.9L624 914.5L628.3 921.7L632.1 929.2L635.3 937L637.8 945L639.5 952.9L640.5 960.7L640.6 968.2L640 975.3L638.6 981.8L636.5 987.7L633.6 992.9L630.1 997.3L626 1000.7L569.3 1044.5L563.9 1047.4L558 1049.1L551.7 1049.6L545 1048.9L538.1 1047L531.2 1044L524.2 1039.9L517.5 1034.7L511 1028.6L504.8 1021.7L499.2 1014L494.1 1005.7L489.7 997L486.1 988L483.2 978.9L481.2 969.7L480.1 960.7L479.9 952.1L480.6 943.9L482.2 936.3L484.7 929.5L488 923.5L492.1 918.5L496.9 914.5Z" fill="#fdfdfd" stroke="#fdfdfd" stroke-width="0.1" />
<path d="M550.5 907C550.8 906.3 551.5 904 552 902.6C552.6 901.2 553.2 899.9 553.9 898.6C554.6 897.3 555.4 896.1 556.2 895C557 893.9 557.9 892.8 558.8 891.8C559.8 890.9 560.7 890 561.8 889.2C562.8 888.4 563.9 887.6 565 887C566.2 886.4 567.3 885.8 568.5 885.4C569.8 884.9 571 884.6 572.3 884.3C573.6 884 574.9 883.8 576.3 883.8C577.6 883.7 579 883.7 580.4 883.8C581.8 883.9 583.2 884.1 584.7 884.4C586.1 884.7 587.6 885 589 885.5C590.5 886 592 886.5 593.5 887.2C594.9 887.8 596.4 888.6 597.9 889.4C599.3 890.2 600.8 891.1 602.3 892.1C603.7 893.1 605.2 894.2 606.6 895.3C608 896.5 609.4 897.7 610.8 899C612.2 900.2 613.5 901.6 614.9 903C616.2 904.4 617.5 905.9 618.7 907.5C620 909 621.2 910.6 622.4 912.3C623.6 913.9 624.7 915.6 625.8 917.3C626.9 919.1 627.9 920.9 628.9 922.7C629.9 924.5 630.8 926.3 631.7 928.2C632.5 930.1 633.4 932 634.1 933.9C634.9 935.8 635.6 937.7 636.2 939.7C636.8 941.6 637.4 943.6 637.9 945.5C638.4 947.4 638.9 949.4 639.2 951.3C639.6 953.2 639.9 955.2 640.1 957.1C640.3 959 640.5 960.8 640.6 962.7C640.7 964.5 640.7 966.4 640.6 968.2C640.6 969.9 640.5 971.7 640.3 973.4C640.1 975.1 639.8 976.8 639.5 978.4C639.1 980 638.7 981.6 638.3 983.1C637.8 984.5 637.3 986 636.7 987.4C636.1 988.7 635.4 990 634.7 991.3C633.9 992.5 633.2 993.7 632.3 994.8C631.5 995.8 630.6 996.9 629.6 997.8C628.6 998.7 627.6 999.6 626.6 1000.3C625.5 1001.1 624.4 1001.7 623.2 1002.3C622.1 1002.9 620.2 1003.6 619.6 1003.8" fill="none" stroke="#000" stroke-width="3.7" />
<path d="M548 905.7C548.3 905 549.1 903 549.8 901.8C550.4 900.5 551.1 899.4 551.9 898.3C552.7 897.2 553.5 896.1 554.4 895.2C555.2 894.2 556.1 893.3 557.1 892.5C558.1 891.7 559.1 891 560.2 890.3C561.2 889.7 562.3 889.1 563.5 888.6C564.6 888.1 565.8 887.7 567 887.4C568.2 887.1 569.4 886.8 570.7 886.7C572 886.6 573.3 886.5 574.6 886.5C575.9 886.5 577.3 886.6 578.6 886.8C580 887 581.4 887.3 582.8 887.7C584.2 888 585.6 888.5 587 889C588.4 889.6 589.8 890.2 591.2 890.9C592.6 891.6 594 892.3 595.4 893.2C596.8 894 598.2 895 599.6 896C601 897 602.4 898 603.7 899.2C605.1 900.3 606.4 901.5 607.7 902.8C609 904.1 610.3 905.4 611.5 906.8C612.8 908.2 614 909.6 615.2 911.1C616.4 912.6 617.5 914.2 618.6 915.8C619.8 917.4 620.8 919 621.9 920.7C622.9 922.3 623.9 924.1 624.8 925.8C625.7 927.5 626.6 929.3 627.4 931.1C628.3 932.9 629 934.7 629.8 936.6C630.5 938.4 631.2 940.2 631.8 942.1C632.4 943.9 632.9 945.8 633.4 947.7C633.9 949.5 634.3 951.4 634.7 953.2C635 955.1 635.3 956.9 635.6 958.7C635.8 960.6 636 962.4 636.1 964.1C636.2 965.9 636.2 967.7 636.2 969.4C636.2 971.1 636.1 972.8 635.9 974.5C635.7 976.1 635.5 977.7 635.2 979.3C635 980.9 634.6 982.4 634.2 983.9C633.8 985.3 633.3 986.7 632.8 988.1C632.2 989.4 631.6 990.7 631 992C630.3 993.2 629.6 994.4 628.9 995.5C628.1 996.6 627.3 997.6 626.4 998.5C625.5 999.5 624.6 1000.4 623.6 1001.2C622.7 1002 621.6 1002.7 620.6 1003.4C619.5 1004 617.8 1004.8 617.3 1005" fill="none" stroke="#000" stroke-width="1.7" />
<path d="M535.3 909.8C535.6 909.2 536.5 907.3 537.2 906.1C537.9 904.9 538.6 903.7 539.4 902.7C540.3 901.6 541.1 900.6 542 899.7C542.9 898.7 543.9 897.9 544.9 897.1C545.9 896.4 547 895.7 548 895.1C549.1 894.5 550.3 893.9 551.4 893.5C552.6 893 553.8 892.7 555.1 892.4C556.3 892.1 557.6 891.9 558.9 891.8C560.2 891.7 561.5 891.7 562.8 891.7C564.2 891.8 565.6 891.9 566.9 892.2C568.3 892.4 569.7 892.7 571.1 893.1C572.5 893.5 574 894 575.4 894.5C576.8 895.1 578.2 895.7 579.6 896.5C581.1 897.2 582.5 898 583.9 898.9C585.3 899.7 586.7 900.7 588.1 901.7C589.5 902.7 590.9 903.8 592.3 905C593.6 906.2 595 907.4 596.3 908.7C597.6 910 598.9 911.3 600.1 912.7C601.4 914.1 602.6 915.6 603.8 917.1C605 918.6 606.2 920.2 607.3 921.8C608.4 923.4 609.5 925.1 610.5 926.8C611.6 928.4 612.6 930.2 613.5 931.9C614.5 933.7 615.4 935.5 616.2 937.3C617.1 939.1 617.8 940.9 618.6 942.8C619.3 944.6 620 946.5 620.6 948.3C621.2 950.2 621.8 952.1 622.3 954C622.8 955.8 623.3 957.7 623.6 959.6C624 961.5 624.3 963.3 624.6 965.2C624.9 967 625 968.8 625.2 970.6C625.3 972.5 625.4 974.2 625.4 976C625.4 977.7 625.3 979.5 625.2 981.1C625 982.8 624.8 984.5 624.6 986.1C624.3 987.7 624 989.2 623.6 990.7C623.2 992.2 622.8 993.7 622.3 995.1C621.8 996.5 621.2 997.8 620.6 999.1C619.9 1000.4 619.3 1001.6 618.5 1002.8C617.8 1003.9 617 1005 616.1 1006C615.3 1007 614.4 1008 613.4 1008.8C612.5 1009.7 611.5 1010.5 610.5 1011.2C609.4 1011.9 607.8 1012.8 607.2 1013.1" fill="none" stroke="#000" stroke-width="2.5" />
<path d="M532 910.1C532.3 909.5 533.3 907.7 534.1 906.6C534.8 905.5 535.6 904.4 536.5 903.4C537.3 902.5 538.2 901.6 539.2 900.7C540.1 899.9 541.1 899.2 542.2 898.5C543.2 897.8 544.3 897.2 545.4 896.7C546.5 896.2 547.7 895.7 548.8 895.4C550 895 551.3 894.7 552.5 894.5C553.8 894.3 555 894.2 556.3 894.2C557.6 894.1 559 894.2 560.3 894.3C561.7 894.5 563 894.7 564.4 895C565.8 895.3 567.2 895.7 568.6 896.1C569.9 896.6 571.4 897.1 572.8 897.7C574.2 898.4 575.6 899 577 899.8C578.4 900.6 579.8 901.4 581.2 902.4C582.5 903.3 583.9 904.3 585.3 905.3C586.6 906.4 588 907.5 589.3 908.7C590.6 909.9 592 911.1 593.2 912.5C594.5 913.8 595.8 915.1 597 916.6C598.2 918 599.4 919.5 600.6 921C601.7 922.5 602.8 924.1 603.9 925.7C605 927.3 606.1 928.9 607 930.6C608 932.3 609 934 609.9 935.8C610.8 937.5 611.7 939.3 612.5 941.1C613.3 942.9 614 944.7 614.7 946.5C615.4 948.4 616.1 950.2 616.7 952C617.3 953.9 617.8 955.7 618.3 957.6C618.7 959.4 619.2 961.3 619.5 963.1C619.9 965 620.1 966.8 620.4 968.6C620.6 970.4 620.8 972.2 620.9 974C621 975.8 621 977.5 621 979.2C621 980.9 620.9 982.6 620.8 984.3C620.6 985.9 620.4 987.5 620.1 989.1C619.9 990.7 619.5 992.2 619.1 993.7C618.8 995.1 618.3 996.6 617.8 997.9C617.3 999.3 616.7 1000.6 616.1 1001.9C615.5 1003.1 614.8 1004.3 614 1005.4C613.3 1006.6 612.5 1007.6 611.7 1008.6C610.8 1009.6 609.9 1010.5 609 1011.4C608.1 1012.2 607.1 1013 606.1 1013.7C605 1014.4 603.4 1015.2 602.9 1015.6" fill="none" stroke="#000" stroke-width="1.6" />
<path d="M517.5 914.1C517.9 913.5 519 911.8 519.8 910.8C520.6 909.7 521.5 908.7 522.4 907.8C523.3 906.9 524.3 906.1 525.3 905.3C526.3 904.5 527.3 903.9 528.4 903.2C529.5 902.6 530.7 902.1 531.8 901.7C533 901.2 534.2 900.8 535.4 900.5C536.7 900.2 537.9 900 539.2 899.9C540.5 899.8 541.8 899.7 543.2 899.8C544.5 899.8 545.9 899.9 547.2 900.1C548.6 900.3 550 900.6 551.4 900.9C552.8 901.3 554.2 901.7 555.7 902.2C557.1 902.8 558.5 903.4 559.9 904C561.3 904.7 562.8 905.5 564.2 906.3C565.6 907.1 567 908 568.4 909C569.8 909.9 571.2 911 572.6 912.1C574 913.2 575.3 914.3 576.7 915.6C578 916.8 579.3 918.1 580.6 919.5C581.9 920.8 583.2 922.2 584.4 923.7C585.6 925.1 586.8 926.6 588 928.2C589.1 929.7 590.3 931.4 591.4 933C592.5 934.6 593.5 936.3 594.5 938C595.5 939.7 596.5 941.5 597.4 943.3C598.3 945 599.2 946.8 600 948.7C600.8 950.5 601.6 952.3 602.3 954.2C603 956 603.6 957.9 604.2 959.8C604.8 961.6 605.4 963.5 605.9 965.4C606.4 967.3 606.8 969.1 607.2 971C607.5 972.9 607.8 974.7 608.1 976.6C608.3 978.4 608.5 980.2 608.6 982C608.7 983.8 608.8 985.6 608.8 987.4C608.8 989.1 608.7 990.9 608.6 992.5C608.5 994.2 608.3 995.9 608.1 997.5C607.8 999.1 607.5 1000.7 607.1 1002.2C606.8 1003.7 606.3 1005.2 605.8 1006.6C605.3 1008 604.8 1009.3 604.2 1010.7C603.6 1012 602.9 1013.2 602.2 1014.4C601.5 1015.6 600.7 1016.7 599.9 1017.7C599.1 1018.8 598.2 1019.8 597.3 1020.7C596.4 1021.6 595.4 1022.4 594.4 1023.2C593.4 1023.9 591.8 1024.9 591.3 1025.2" fill="none" stroke="#000" stroke-width="3.7" />
<path d="M514.5 912.9C514.9 912.4 516.1 910.9 517 909.9C517.9 909 518.8 908.1 519.8 907.3C520.7 906.6 521.7 905.8 522.8 905.2C523.9 904.5 524.9 904 526.1 903.5C527.2 903 528.4 902.6 529.6 902.2C530.8 901.9 532 901.6 533.2 901.4C534.5 901.2 535.8 901.1 537.1 901.1C538.4 901 539.7 901.1 541 901.2C542.4 901.3 543.7 901.5 545.1 901.8C546.5 902.1 547.9 902.5 549.3 902.9C550.6 903.3 552 903.8 553.5 904.4C554.9 905 556.3 905.7 557.7 906.4C559.1 907.1 560.5 907.9 561.9 908.8C563.2 909.6 564.6 910.6 566 911.6C567.4 912.6 568.7 913.7 570.1 914.8C571.4 915.9 572.8 917.1 574.1 918.4C575.4 919.6 576.6 920.9 577.9 922.3C579.2 923.7 580.4 925.1 581.6 926.6C582.8 928 584 929.5 585.1 931.1C586.2 932.6 587.3 934.2 588.4 935.9C589.4 937.5 590.5 939.2 591.4 940.9C592.4 942.6 593.3 944.3 594.2 946.1C595.1 947.8 596 949.6 596.7 951.4C597.5 953.2 598.3 955 599 956.8C599.7 958.7 600.3 960.5 600.9 962.4C601.5 964.2 602 966.1 602.5 967.9C603 969.7 603.4 971.6 603.7 973.4C604.1 975.3 604.4 977.1 604.7 978.9C604.9 980.7 605.1 982.5 605.2 984.3C605.4 986.1 605.4 987.9 605.4 989.6C605.4 991.3 605.4 993 605.3 994.7C605.2 996.4 605 998 604.8 999.6C604.6 1001.2 604.3 1002.8 603.9 1004.3C603.6 1005.8 603.2 1007.3 602.7 1008.7C602.3 1010.1 601.8 1011.5 601.2 1012.8C600.6 1014.1 600 1015.4 599.3 1016.6C598.7 1017.7 597.9 1018.9 597.2 1020C596.4 1021 595.6 1022 594.7 1023C593.8 1023.9 592.9 1024.8 591.9 1025.6C591 1026.4 589.4 1027.5 588.9 1027.8" fill="none" stroke="#000" stroke-width="1.7" />
<path d="M493.6 917L523.5 906.8" fill="none" stroke="#000" stroke-width="2.3" />
<path d="M519.3 911.4L556.4 894.7" fill="none" stroke="#000" stroke-width="2.3" />
<path d="M508.2 909.9L534 900.9" fill="none" stroke="#000" stroke-width="1.8" />
<path d="M531.1 901.9L567.6 885.8" fill="none" stroke="#000" stroke-width="1.8" />
<path d="M570 1044L593.8 1023.6" fill="none" stroke="#000" stroke-width="2.3" />
<path d="M592.6 1024.5L624.2 1001.8" fill="none" stroke="#000" stroke-width="2.3" />
<path d="M575.1 959C575.8 960.8 578.3 966.1 579.7 969.8C581 973.4 582.2 977.1 583.1 980.7C584.1 984.4 584.8 988.1 585.3 991.7C585.9 995.3 586.2 998.9 586.3 1002.3C586.4 1005.8 586.2 1009.2 585.9 1012.4C585.6 1015.7 585 1018.8 584.2 1021.7C583.5 1024.6 582.5 1027.4 581.3 1029.9C580.1 1032.5 578.7 1034.8 577.2 1036.9C575.6 1039 573.9 1040.9 572 1042.5C570.1 1044.1 568 1045.5 565.8 1046.6C563.6 1047.6 561.3 1048.4 558.8 1048.9C556.4 1049.4 553.8 1049.7 551.2 1049.6C548.6 1049.5 545.9 1049.2 543.2 1048.5C540.5 1047.9 537.7 1047 534.9 1045.8C532.1 1044.6 529.3 1043.1 526.5 1041.4C523.8 1039.7 521 1037.7 518.4 1035.5C515.7 1033.3 513.1 1030.8 510.5 1028.2C508 1025.6 505.6 1022.7 503.3 1019.7C501 1016.7 498.8 1013.5 496.8 1010.2C494.7 1006.9 492.8 1003.5 491.1 1000C489.4 996.5 487.9 992.9 486.5 989.2C485.2 985.6 484 981.9 483.1 978.3C482.1 974.6 481.4 970.9 480.9 967.3C480.3 963.7 480 960.1 479.9 956.7C479.8 953.2 480 949.8 480.3 946.6C480.6 943.3 481.2 940.2 482 937.3C482.7 934.4 483.7 931.6 484.9 929.1C486.1 926.5 487.5 924.2 489 922.1C490.6 920 492.3 918.1 494.2 916.5C496.1 914.9 498.2 913.5 500.4 912.4C502.6 911.4 504.9 910.6 507.4 910.1C509.8 909.6 512.4 909.3 515 909.4C517.6 909.5 520.3 909.8 523 910.5C525.7 911.1 528.5 912 531.3 913.2C534.1 914.4 536.9 915.9 539.7 917.6C542.4 919.3 545.2 921.3 547.8 923.5C550.5 925.7 553.1 928.2 555.7 930.8C558.2 933.4 560.6 936.3 562.9 939.3C565.2 942.3 567.4 945.5 569.4 948.8C571.5 952.1 574.1 957.3 575.1 959Z" fill="#fdfdfd" stroke="#000" stroke-width="3.2" />
<clipPath id="bootclip"><path d="M566.7 963.1L570.4 971.7L573.1 980.5L574.9 989.3L575.6 997.8L575.3 1005.8L574 1013.3L571.7 1019.9L568.4 1025.5L564.2 1029.9L559.3 1033.1L553.7 1035L547.6 1035.6L541.2 1034.7L534.5 1032.5L527.9 1029L521.3 1024.3L515.1 1018.4L509.2 1011.7L504 1004.1L499.5 995.9L495.8 987.3L493.1 978.5L491.3 969.7L490.6 961.2L490.9 953.2L492.2 945.7L494.5 939.1L497.8 933.5L502 929.1L506.9 925.9L512.5 924L518.6 923.4L525 924.3L531.7 926.5L538.3 930L544.9 934.7L551.1 940.6L557 947.3L562.2 954.9L566.7 963.1Z"/></clipPath>
<g clip-path="url(#bootclip)">
<path d="M567.4 962.6C568 964 569.9 968 570.9 970.8C571.9 973.6 572.8 976.4 573.5 979.2C574.3 982 574.8 984.8 575.2 987.6C575.6 990.3 575.9 993.1 576 995.7C576 998.4 575.9 1001 575.7 1003.5C575.4 1005.9 575 1008.3 574.4 1010.6C573.8 1012.8 573 1014.9 572.1 1016.9C571.2 1018.8 570.2 1020.6 569 1022.2C567.8 1023.8 566.5 1025.2 565 1026.5C563.6 1027.7 562 1028.7 560.3 1029.6C558.6 1030.4 556.8 1031 555 1031.4C553.1 1031.8 551.1 1031.9 549.1 1031.9C547.1 1031.8 545.1 1031.6 543 1031.1C540.9 1030.6 538.8 1029.9 536.6 1029C534.5 1028.1 532.4 1026.9 530.3 1025.6C528.1 1024.3 526 1022.8 524 1021.1C522 1019.4 519.9 1017.5 518 1015.5C516.1 1013.5 514.2 1011.3 512.5 1009C510.7 1006.7 509 1004.3 507.5 1001.8C505.9 999.2 504.5 996.6 503.2 993.9C501.9 991.2 500.7 988.5 499.6 985.7C498.6 982.9 497.7 980.1 497 977.3C496.3 974.5 495.7 971.7 495.3 968.9C494.9 966.2 494.7 963.4 494.6 960.8C494.5 958.1 494.6 955.5 494.9 953.1C495.1 950.6 495.6 948.2 496.2 946C496.7 943.7 497.5 941.6 498.4 939.7C499.3 937.7 500.4 935.9 501.6 934.3C502.7 932.7 504.1 931.3 505.5 930C507 928.8 508.6 927.8 510.3 927C511.9 926.2 513.7 925.5 515.6 925.1C517.4 924.8 519.4 924.6 521.4 924.6C523.4 924.7 525.5 925 527.6 925.4C529.6 925.9 531.8 926.6 533.9 927.6C536 928.5 538.2 929.6 540.3 930.9C542.4 932.2 544.5 933.8 546.5 935.4C548.6 937.1 550.6 939 552.5 941C554.4 943 556.3 945.2 558.1 947.5C559.8 949.8 561.5 952.3 563.1 954.8C564.6 957.3 566.7 961.3 567.4 962.6Z" fill="none" stroke="#000" stroke-width="3" />
<path d="M566.8 962.8C567.3 964.1 569.1 967.9 570.1 970.5C571.1 973.1 571.9 975.8 572.6 978.4C573.3 981 573.8 983.7 574.2 986.3C574.6 988.9 574.8 991.5 574.9 994C574.9 996.5 574.8 998.9 574.6 1001.2C574.3 1003.6 573.9 1005.8 573.4 1007.9C572.8 1010 572.1 1012 571.3 1013.8C570.4 1015.7 569.4 1017.4 568.3 1018.9C567.2 1020.4 565.9 1021.7 564.6 1022.9C563.2 1024 561.7 1025 560.1 1025.8C558.5 1026.6 556.9 1027.1 555.1 1027.5C553.4 1027.9 551.5 1028 549.6 1028C547.8 1027.9 545.8 1027.7 543.8 1027.2C541.9 1026.8 539.9 1026.1 537.9 1025.2C535.9 1024.4 533.8 1023.3 531.9 1022.1C529.9 1020.8 527.9 1019.4 526 1017.8C524 1016.2 522.1 1014.5 520.3 1012.6C518.5 1010.7 516.8 1008.6 515.1 1006.5C513.5 1004.3 511.9 1002 510.4 999.6C508.9 997.3 507.6 994.8 506.4 992.3C505.1 989.7 504 987.1 503 984.5C502.1 981.9 501.2 979.2 500.6 976.6C499.9 974 499.3 971.3 499 968.7C498.6 966.1 498.4 963.6 498.3 961.1C498.2 958.6 498.3 956.1 498.6 953.8C498.8 951.5 499.2 949.2 499.8 947.1C500.3 945 501 943 501.9 941.2C502.7 939.4 503.7 937.7 504.8 936.2C506 934.7 507.2 933.3 508.6 932.1C510 931 511.5 930 513 929.2C514.6 928.5 516.3 927.9 518 927.5C519.8 927.2 521.6 927 523.5 927C525.4 927.1 527.4 927.4 529.3 927.8C531.3 928.3 533.3 928.9 535.3 929.8C537.3 930.7 539.3 931.7 541.3 933C543.3 934.2 545.3 935.6 547.2 937.2C549.1 938.8 551 940.6 552.8 942.5C554.6 944.4 556.4 946.4 558 948.6C559.7 950.7 561.3 953 562.7 955.4C564.2 957.8 566.1 961.5 566.8 962.8Z" fill="none" stroke="#000" stroke-width="3.9" />
<path d="M568.6 961.7C569.1 963 570.8 966.7 571.8 969.2C572.7 971.8 573.5 974.3 574.2 976.9C574.9 979.5 575.4 982.1 575.8 984.6C576.1 987.1 576.3 989.6 576.4 992C576.5 994.4 576.4 996.8 576.1 999.1C575.9 1001.3 575.5 1003.5 575 1005.6C574.4 1007.6 573.7 1009.6 572.9 1011.3C572.1 1013.1 571.1 1014.8 570 1016.2C568.9 1017.7 567.7 1019 566.4 1020.1C565.1 1021.3 563.6 1022.2 562.1 1023C560.5 1023.7 558.9 1024.3 557.2 1024.6C555.5 1025 553.7 1025.1 551.9 1025.1C550 1025.1 548.1 1024.8 546.2 1024.4C544.3 1023.9 542.4 1023.3 540.4 1022.4C538.5 1021.6 536.5 1020.6 534.6 1019.4C532.7 1018.2 530.7 1016.8 528.9 1015.2C527 1013.7 525.2 1011.9 523.4 1010.1C521.6 1008.3 519.9 1006.3 518.3 1004.2C516.7 1002.1 515.2 999.8 513.7 997.5C512.3 995.2 511 992.8 509.8 990.4C508.6 987.9 507.5 985.4 506.6 982.8C505.6 980.3 504.8 977.7 504.2 975.2C503.5 972.6 503 970 502.6 967.5C502.2 965 502 962.5 502 960C501.9 957.6 502 955.2 502.2 953C502.5 950.7 502.9 948.5 503.4 946.5C503.9 944.4 504.6 942.5 505.4 940.7C506.3 938.9 507.2 937.3 508.3 935.8C509.4 934.4 510.6 933 512 931.9C513.3 930.8 514.8 929.8 516.3 929.1C517.8 928.3 519.5 927.8 521.2 927.4C522.9 927.1 524.7 926.9 526.5 927C528.3 927 530.2 927.3 532.1 927.7C534 928.2 536 928.8 537.9 929.6C539.9 930.5 541.8 931.5 543.8 932.7C545.7 933.9 547.6 935.3 549.5 936.9C551.4 938.4 553.2 940.1 555 942C556.7 943.8 558.4 945.8 560 947.9C561.7 950 563.2 952.2 564.6 954.5C566 956.8 567.9 960.5 568.6 961.7Z" fill="none" stroke="#000" stroke-width="2.3" />
<path d="M572.1 959.6C572.6 960.9 574.3 964.5 575.2 966.9C576.1 969.4 576.9 971.9 577.5 974.4C578.2 976.9 578.7 979.4 579.1 981.8C579.4 984.3 579.6 986.7 579.7 989.1C579.7 991.4 579.7 993.8 579.4 996C579.2 998.1 578.8 1000.3 578.3 1002.3C577.8 1004.2 577.1 1006.1 576.3 1007.9C575.5 1009.6 574.5 1011.2 573.5 1012.6C572.4 1014 571.2 1015.3 570 1016.4C568.7 1017.5 567.2 1018.4 565.8 1019.1C564.3 1019.9 562.7 1020.4 561 1020.8C559.4 1021.1 557.6 1021.3 555.9 1021.2C554.1 1021.2 552.2 1020.9 550.4 1020.5C548.5 1020.1 546.6 1019.4 544.7 1018.6C542.9 1017.8 540.9 1016.8 539.1 1015.6C537.2 1014.5 535.3 1013.1 533.5 1011.6C531.7 1010.1 529.9 1008.4 528.2 1006.7C526.5 1004.9 524.8 1002.9 523.2 1000.9C521.7 998.8 520.2 996.7 518.8 994.4C517.4 992.2 516.1 989.9 515 987.5C513.8 985.1 512.8 982.6 511.9 980.2C510.9 977.7 510.1 975.2 509.5 972.7C508.9 970.2 508.4 967.7 508 965.3C507.6 962.8 507.4 960.4 507.4 958C507.3 955.7 507.4 953.4 507.6 951.2C507.8 949 508.2 946.8 508.8 944.9C509.3 942.9 510 941 510.8 939.2C511.6 937.5 512.5 935.9 513.6 934.5C514.6 933.1 515.8 931.8 517.1 930.7C518.4 929.6 519.8 928.7 521.3 928C522.8 927.2 524.4 926.7 526 926.3C527.7 926 529.4 925.8 531.2 925.9C533 925.9 534.8 926.2 536.7 926.6C538.5 927 540.4 927.7 542.3 928.5C544.2 929.3 546.1 930.3 548 931.5C549.9 932.6 551.7 934 553.5 935.5C555.4 937 557.1 938.7 558.9 940.5C560.6 942.2 562.2 944.2 563.8 946.2C565.4 948.3 566.9 950.4 568.2 952.7C569.6 954.9 571.4 958.5 572.1 959.6Z" fill="none" stroke="#000" stroke-width="1.8" />
<path d="M575.6 957.6C576.1 958.7 577.7 962.3 578.6 964.7C579.5 967 580.3 969.5 580.9 971.9C581.5 974.3 582 976.8 582.3 979.1C582.7 981.5 582.9 983.9 583 986.2C583 988.4 582.9 990.7 582.7 992.8C582.5 994.9 582.1 997 581.6 998.9C581.1 1000.9 580.5 1002.7 579.7 1004.4C578.9 1006 578 1007.6 577 1009C575.9 1010.4 574.8 1011.6 573.5 1012.7C572.3 1013.7 570.9 1014.6 569.4 1015.3C568 1016 566.5 1016.6 564.9 1016.9C563.2 1017.2 561.6 1017.4 559.8 1017.3C558.1 1017.3 556.3 1017.1 554.5 1016.6C552.7 1016.2 550.9 1015.6 549 1014.8C547.2 1014 545.4 1013.1 543.5 1011.9C541.7 1010.8 539.9 1009.5 538.1 1008C536.4 1006.6 534.6 1004.9 533 1003.2C531.3 1001.5 529.7 999.6 528.2 997.6C526.7 995.6 525.2 993.5 523.9 991.3C522.5 989.2 521.3 986.9 520.2 984.6C519 982.3 518 979.9 517.1 977.5C516.2 975.1 515.5 972.7 514.8 970.3C514.2 967.8 513.7 965.4 513.4 963C513 960.6 512.8 958.3 512.8 956C512.7 953.7 512.8 951.5 513 949.3C513.2 947.2 513.6 945.1 514.1 943.2C514.6 941.3 515.3 939.5 516.1 937.8C516.8 936.1 517.8 934.5 518.8 933.2C519.8 931.8 521 930.5 522.2 929.5C523.5 928.4 524.8 927.5 526.3 926.8C527.7 926.1 529.3 925.6 530.9 925.3C532.5 924.9 534.2 924.8 535.9 924.8C537.6 924.9 539.4 925.1 541.2 925.5C543 925.9 544.9 926.5 546.7 927.3C548.5 928.1 550.4 929.1 552.2 930.2C554 931.4 555.8 932.7 557.6 934.1C559.4 935.6 561.1 937.2 562.8 938.9C564.4 940.7 566 942.6 567.5 944.6C569.1 946.5 570.5 948.6 571.9 950.8C573.2 953 574.9 956.4 575.6 957.6Z" fill="none" stroke="#000" stroke-width="2.1" />
<path d="M579.5 955.3C580 956.5 581.6 959.9 582.5 962.3C583.4 964.6 584.1 967 584.7 969.4C585.3 971.8 585.8 974.2 586.2 976.5C586.5 978.9 586.7 981.2 586.8 983.5C586.8 985.7 586.8 987.9 586.5 990C586.3 992.1 585.9 994.1 585.4 996C584.9 997.9 584.3 999.7 583.5 1001.4C582.8 1003 581.9 1004.6 580.9 1005.9C579.8 1007.3 578.7 1008.5 577.5 1009.6C576.2 1010.6 574.9 1011.5 573.5 1012.2C572 1012.9 570.5 1013.4 568.9 1013.7C567.4 1014.1 565.7 1014.2 564 1014.2C562.3 1014.1 560.5 1013.9 558.8 1013.5C557 1013.1 555.2 1012.5 553.4 1011.7C551.6 1010.9 549.7 1009.9 547.9 1008.8C546.2 1007.7 544.4 1006.4 542.6 1005C540.9 1003.6 539.2 1002 537.6 1000.2C535.9 998.5 534.3 996.7 532.8 994.7C531.3 992.8 529.9 990.7 528.6 988.6C527.3 986.4 526 984.2 524.9 981.9C523.8 979.6 522.8 977.3 521.9 974.9C521.1 972.6 520.3 970.2 519.7 967.8C519.1 965.4 518.6 963 518.2 960.7C517.9 958.3 517.7 956 517.6 953.7C517.6 951.5 517.7 949.3 517.9 947.2C518.1 945.1 518.5 943.1 519 941.2C519.5 939.3 520.1 937.5 520.9 935.8C521.6 934.2 522.6 932.6 523.6 931.3C524.6 929.9 525.7 928.7 526.9 927.6C528.2 926.6 529.5 925.7 531 925C532.4 924.3 533.9 923.8 535.5 923.5C537.1 923.1 538.7 923 540.4 923C542.1 923.1 543.9 923.3 545.7 923.7C547.4 924.1 549.2 924.7 551 925.5C552.9 926.3 554.7 927.3 556.5 928.4C558.3 929.5 560.1 930.8 561.8 932.2C563.5 933.6 565.2 935.2 566.9 937C568.5 938.7 570.1 940.5 571.6 942.5C573.1 944.4 574.5 946.5 575.8 948.6C577.1 950.8 578.9 954.2 579.5 955.3Z" fill="none" stroke="#000" stroke-width="1.6" />
<path d="M588.7 950C589.1 951.1 590.7 954.4 591.5 956.6C592.3 958.9 593.1 961.2 593.6 963.4C594.2 965.7 594.7 968 595 970.2C595.4 972.4 595.5 974.7 595.6 976.8C595.7 979 595.6 981.1 595.4 983.1C595.2 985.1 594.8 987 594.3 988.8C593.9 990.6 593.2 992.4 592.5 993.9C591.8 995.5 590.9 997 590 998.3C589 999.6 587.9 1000.7 586.7 1001.7C585.6 1002.7 584.3 1003.6 582.9 1004.2C581.6 1004.9 580.1 1005.4 578.6 1005.7C577.1 1006 575.5 1006.2 573.9 1006.1C572.3 1006.1 570.6 1005.8 568.9 1005.5C567.2 1005.1 565.5 1004.5 563.7 1003.7C562 1003 560.3 1002.1 558.6 1001C556.9 1000 555.1 998.7 553.5 997.4C551.8 996 550.2 994.5 548.7 992.8C547.1 991.2 545.6 989.4 544.1 987.6C542.7 985.7 541.4 983.7 540.1 981.7C538.8 979.7 537.7 977.5 536.6 975.3C535.6 973.2 534.6 970.9 533.8 968.7C532.9 966.4 532.2 964.1 531.6 961.9C531 959.6 530.6 957.3 530.2 955.1C529.9 952.9 529.7 950.6 529.7 948.5C529.6 946.3 529.7 944.2 529.9 942.2C530.1 940.2 530.5 938.3 530.9 936.5C531.4 934.7 532 932.9 532.8 931.4C533.5 929.8 534.3 928.3 535.3 927C536.3 925.7 537.4 924.6 538.5 923.6C539.7 922.6 541 921.7 542.4 921.1C543.7 920.4 545.2 919.9 546.7 919.6C548.2 919.3 549.8 919.2 551.4 919.2C553 919.2 554.7 919.5 556.4 919.9C558.1 920.2 559.8 920.8 561.5 921.6C563.2 922.3 565 923.2 566.7 924.3C568.4 925.3 570.1 926.6 571.8 927.9C573.4 929.3 575.1 930.8 576.6 932.5C578.2 934.1 579.7 935.9 581.1 937.7C582.5 939.6 583.9 941.6 585.2 943.6C586.4 945.7 588.1 948.9 588.7 950Z" fill="none" stroke="#000" stroke-width="5.1" />
<path d="M593 947.4C593.5 948.5 595 951.7 595.8 953.8C596.6 956 597.3 958.2 597.9 960.4C598.4 962.6 598.9 964.8 599.2 967C599.5 969.2 599.7 971.3 599.8 973.4C599.8 975.5 599.7 977.5 599.5 979.4C599.3 981.4 599 983.3 598.5 985C598.1 986.8 597.5 988.4 596.8 989.9C596.1 991.5 595.2 992.9 594.3 994.1C593.4 995.4 592.3 996.5 591.2 997.5C590 998.5 588.8 999.3 587.5 999.9C586.2 1000.6 584.7 1001 583.3 1001.3C581.8 1001.6 580.3 1001.8 578.7 1001.7C577.2 1001.7 575.5 1001.5 573.9 1001.1C572.3 1000.7 570.6 1000.2 568.9 999.4C567.3 998.7 565.6 997.8 563.9 996.8C562.3 995.8 560.6 994.6 559 993.3C557.4 991.9 555.8 990.5 554.3 988.9C552.8 987.3 551.3 985.6 550 983.8C548.6 982 547.3 980.1 546 978.1C544.8 976.1 543.7 974.1 542.7 972C541.6 969.9 540.7 967.7 539.9 965.5C539.1 963.3 538.4 961.1 537.8 958.9C537.3 956.7 536.8 954.5 536.5 952.4C536.2 950.2 536 948 535.9 946C535.9 943.9 536 941.9 536.2 939.9C536.4 938 536.7 936.1 537.2 934.4C537.6 932.6 538.2 930.9 538.9 929.4C539.6 927.9 540.5 926.5 541.4 925.2C542.3 924 543.4 922.8 544.5 921.9C545.7 920.9 546.9 920.1 548.2 919.4C549.5 918.8 550.9 918.3 552.4 918C553.9 917.7 555.4 917.6 557 917.6C558.5 917.7 560.2 917.9 561.8 918.3C563.4 918.6 565.1 919.2 566.8 919.9C568.4 920.6 570.1 921.5 571.8 922.5C573.4 923.6 575.1 924.8 576.7 926.1C578.3 927.4 579.9 928.9 581.4 930.5C582.9 932 584.4 933.8 585.7 935.6C587.1 937.4 588.4 939.3 589.6 941.3C590.9 943.2 592.5 946.4 593 947.4Z" fill="none" stroke="#000" stroke-width="1.8" />
<path d="M600.5 943.1C600.9 944.1 602.3 947.1 603.1 949.2C603.8 951.2 604.5 953.4 605 955.4C605.6 957.5 606 959.6 606.3 961.7C606.6 963.7 606.8 965.8 606.8 967.7C606.9 969.7 606.8 971.7 606.6 973.5C606.4 975.3 606.1 977.1 605.7 978.8C605.2 980.4 604.7 982 604 983.5C603.3 984.9 602.5 986.3 601.7 987.5C600.8 988.7 599.8 989.7 598.7 990.6C597.6 991.6 596.4 992.3 595.2 992.9C593.9 993.6 592.6 994 591.2 994.3C589.8 994.6 588.4 994.7 586.9 994.7C585.4 994.6 583.8 994.4 582.3 994.1C580.7 993.7 579.1 993.2 577.5 992.5C576 991.8 574.4 991 572.8 990C571.2 989 569.7 987.9 568.1 986.6C566.6 985.4 565.1 984 563.7 982.5C562.2 981 560.8 979.3 559.5 977.6C558.2 975.9 557 974.1 555.8 972.2C554.7 970.4 553.6 968.4 552.6 966.4C551.6 964.4 550.7 962.3 550 960.3C549.2 958.2 548.6 956.1 548 954C547.5 951.9 547 949.8 546.8 947.8C546.5 945.7 546.3 943.7 546.2 941.7C546.2 939.7 546.2 937.8 546.4 936C546.6 934.1 546.9 932.3 547.4 930.7C547.8 929 548.4 927.4 549.1 926C549.7 924.5 550.5 923.2 551.4 922C552.3 920.8 553.3 919.7 554.4 918.8C555.5 917.9 556.6 917.1 557.9 916.5C559.1 915.9 560.5 915.4 561.9 915.2C563.2 914.9 564.7 914.7 566.2 914.8C567.7 914.8 569.2 915 570.8 915.4C572.3 915.7 573.9 916.3 575.5 916.9C577.1 917.6 578.7 918.5 580.3 919.4C581.8 920.4 583.4 921.6 584.9 922.8C586.4 924.1 588 925.5 589.4 927C590.8 928.5 592.2 930.1 593.5 931.8C594.8 933.5 596.1 935.3 597.2 937.2C598.4 939.1 599.9 942.1 600.5 943.1Z" fill="none" stroke="#000" stroke-width="2.1" />
<path d="M604.8 940.5C605.2 941.5 606.6 944.4 607.4 946.4C608.1 948.4 608.7 950.4 609.3 952.4C609.8 954.4 610.2 956.5 610.5 958.5C610.8 960.4 610.9 962.4 611 964.3C611 966.2 611 968.1 610.8 969.9C610.6 971.6 610.3 973.4 609.9 975C609.4 976.6 608.9 978.1 608.2 979.5C607.6 980.9 606.8 982.2 606 983.3C605.1 984.5 604.2 985.5 603.1 986.4C602.1 987.3 600.9 988 599.7 988.6C598.5 989.2 597.2 989.7 595.9 989.9C594.6 990.2 593.1 990.3 591.7 990.3C590.3 990.3 588.8 990.1 587.3 989.7C585.8 989.4 584.2 988.9 582.7 988.2C581.2 987.5 579.7 986.7 578.1 985.8C576.6 984.8 575.1 983.7 573.6 982.5C572.2 981.3 570.7 980 569.3 978.5C568 977.1 566.6 975.5 565.3 973.9C564.1 972.2 562.9 970.4 561.8 968.6C560.6 966.8 559.6 964.9 558.7 963C557.7 961.1 556.9 959.1 556.1 957.1C555.4 955.1 554.7 953.1 554.2 951.1C553.7 949.1 553.3 947 553 945C552.7 943.1 552.5 941.1 552.5 939.2C552.4 937.3 552.5 935.4 552.7 933.6C552.9 931.9 553.2 930.1 553.6 928.5C554 926.9 554.6 925.4 555.2 924C555.9 922.6 556.6 921.3 557.5 920.2C558.4 919 559.3 918 560.4 917.1C561.4 916.2 562.6 915.5 563.8 914.9C565 914.3 566.3 913.8 567.6 913.6C568.9 913.3 570.3 913.2 571.8 913.2C573.2 913.2 574.7 913.4 576.2 913.8C577.7 914.1 579.2 914.6 580.8 915.3C582.3 916 583.8 916.8 585.3 917.7C586.9 918.7 588.4 919.8 589.8 921C591.3 922.2 592.8 923.5 594.1 925C595.5 926.4 596.9 928 598.1 929.6C599.4 931.3 600.6 933.1 601.7 934.9C602.8 936.7 604.3 939.6 604.8 940.5Z" fill="none" stroke="#000" stroke-width="1.6" />
</g>
<path d="M566.7 963.1C567.3 964.6 569.3 968.8 570.4 971.7C571.4 974.6 572.4 977.6 573.1 980.5C573.9 983.4 574.5 986.4 574.9 989.3C575.3 992.1 575.6 995 575.6 997.8C575.7 1000.5 575.6 1003.3 575.3 1005.8C575.1 1008.4 574.6 1010.9 574 1013.3C573.4 1015.6 572.6 1017.8 571.7 1019.9C570.7 1021.9 569.6 1023.8 568.4 1025.5C567.1 1027.1 565.7 1028.6 564.2 1029.9C562.7 1031.2 561 1032.3 559.3 1033.1C557.5 1034 555.6 1034.6 553.7 1035C551.7 1035.4 549.7 1035.6 547.6 1035.6C545.5 1035.5 543.3 1035.2 541.2 1034.7C539 1034.2 536.7 1033.5 534.5 1032.5C532.3 1031.6 530.1 1030.4 527.9 1029C525.7 1027.6 523.4 1026 521.3 1024.3C519.2 1022.5 517.1 1020.5 515.1 1018.4C513 1016.3 511.1 1014 509.2 1011.7C507.4 1009.3 505.6 1006.7 504 1004.1C502.4 1001.4 500.9 998.7 499.5 995.9C498.2 993.1 496.9 990.2 495.8 987.3C494.8 984.4 493.8 981.4 493.1 978.5C492.3 975.6 491.7 972.6 491.3 969.7C490.9 966.9 490.6 964 490.6 961.2C490.5 958.5 490.6 955.7 490.9 953.2C491.1 950.6 491.6 948.1 492.2 945.7C492.8 943.4 493.6 941.2 494.5 939.1C495.5 937.1 496.6 935.2 497.8 933.5C499.1 931.9 500.5 930.4 502 929.1C503.5 927.8 505.2 926.7 506.9 925.9C508.7 925 510.6 924.4 512.5 924C514.5 923.6 516.5 923.4 518.6 923.4C520.7 923.5 522.9 923.8 525 924.3C527.2 924.8 529.5 925.5 531.7 926.5C533.9 927.4 536.1 928.6 538.3 930C540.5 931.4 542.8 933 544.9 934.7C547 936.5 549.1 938.5 551.1 940.6C553.2 942.7 555.1 945 557 947.3C558.8 949.7 560.6 952.3 562.2 954.9C563.8 957.6 565.9 961.8 566.7 963.1Z" fill="none" stroke="#000" stroke-width="2.1" />
<path d="M516.2 915C517.2 914.1 520 912.9 522.5 913.1C525 913.3 530 915.1 531.2 916.2C532.5 917.4 531.5 919.2 530 920C528.5 920.8 524.7 921.5 522.5 921.2C520.3 921 517.9 919.8 516.9 918.8C515.8 917.7 515.3 915.9 516.2 915Z" fill="#000" stroke="#000" stroke-width="1.7" />
<path d="M592.5 941.9L600.6 939.4L607.5 955L614 972.5L609.4 975.6L601.2 958.8Z" fill="#000" stroke="#000" stroke-width="1.7" />
<path d="M610 978.1L615 977.5L615.6 983.8L611.9 985.6" fill="none" stroke="#000" stroke-width="2.1" />
<path d="M518.8 1026.2L532.5 1030L540 1040L537.5 1050L527.5 1051.2L522.5 1040Z" fill="#000" stroke="#000" stroke-width="2.3" />
<path d="M528.8 1040L536.2 1040L535.5 1048L529.5 1048.8Z" fill="#fdfdfd" stroke="#fdfdfd" stroke-width="1.1" />
<path d="M545 1048.8L546.2 1055L556.2 1054.5L566.2 1050L565 1042.5L555 1041.2Z" fill="#fdfdfd" stroke="#000" stroke-width="2.5" />
<path d="M551.2 1045L552 1054.5" fill="none" stroke="#000" stroke-width="1.7" />
<path d="M557.5 1043.8L558.8 1053.5" fill="none" stroke="#000" stroke-width="1.7" />
<path d="M520 1030C522.5 1031.7 529.2 1037.9 535 1040C540.8 1042.1 548.8 1042.9 555 1042.5C561.2 1042.1 569.6 1038.3 572.5 1037.5" fill="none" stroke="#000" stroke-width="2.3" />
<path d="M895 707.5C896.7 707 901.7 704.8 905 704.4C908.3 704 911.5 704 915 705C918.5 706 922.5 708.3 926.2 710.6C930 712.9 934.2 715.9 937.5 718.8C940.8 721.6 943.5 724.4 946.2 727.5C949 730.6 951 733.9 953.8 737.5C956.5 741.1 961 747.4 962.5 749.4" fill="none" stroke="#000" stroke-width="5.5" />
<path d="M896.2 713.1C899 713 906.9 710.5 912.5 712.5C918.1 714.5 924.6 720.2 930 725C935.4 729.8 940.6 736.9 945 741.2C949.4 745.6 954.4 749.6 956.2 751.2" fill="none" stroke="#000" stroke-width="2.9" />
<path d="M910 726.2C911.7 727.3 916.7 729.6 920 732.5C923.3 735.4 926.7 741.9 930 743.8C933.3 745.6 937.5 744.2 940 743.8C942.5 743.3 944.2 741.7 945 741.2" fill="none" stroke="#000" stroke-width="3.4" />
<path d="M915 731.2C916.7 733.8 922.5 743.1 925 746.2C927.5 749.4 929.2 749.4 930 750" fill="none" stroke="#000" stroke-width="2.1" />
<path d="M960 753.8C962.5 753.1 969.8 750.2 975 750C980.2 749.8 986.8 750.8 991.2 752.5C995.7 754.2 998.8 757.5 1001.9 760C1005 762.5 1008.9 765.4 1010 767.5C1011.1 769.6 1010.2 771.1 1008.8 772.8C1007.3 774.4 1001.2 774.2 1001.2 777.5C1001.2 780.8 1006.9 787.1 1008.8 792.5C1010.6 797.9 1012.3 803.1 1012.5 810C1012.7 816.9 1012.1 826 1010 833.8C1007.9 841.5 1004.2 850 1000 856.2C995.8 862.5 991.2 867.1 985 871.2C978.8 875.4 970.4 878.5 962.5 881.2C954.6 884 944.8 887.3 937.5 887.8C930.2 888.2 924 885.9 918.8 883.8C913.5 881.6 908.3 876.5 906.2 875" fill="#fdfdfd" stroke="#000" stroke-width="3.4" />
<path d="M912.5 771.2C914.6 769.5 920.8 763.3 925 760.6C929.2 757.9 933.5 756.4 937.5 755C941.5 753.6 945 752.8 948.8 752.5C952.5 752.2 958.1 753.3 960 753.5" fill="none" stroke="#000" stroke-width="3.4" />
<path d="M956.2 758.8L970 827.5L977.8 875.2" fill="none" stroke="#000" stroke-width="2.9" />
<path d="M959 758.8L966.2 810L975 865" fill="none" stroke="#000" stroke-width="2.1" />
<path d="M816.2 735C816.7 736.7 816.9 742.3 818.8 745C820.6 747.7 824.4 750 827.5 751.2C830.6 752.5 835.8 752.3 837.5 752.5L840 770L851 820L852 850L840 880L852.5 882.5L871 888.7L885 886L897.5 881L902.5 873.7L906 860L900 800L905 760L898 746Z" fill="#fdfdfd" stroke="#fdfdfd" stroke-width="0.1" />
<path d="M837.5 752.5L840 770L851 820" fill="none" stroke="#000" stroke-width="2.6" />
<path d="M848.8 746.2L852.5 770L867.5 882.5" fill="none" stroke="#000" stroke-width="2.6" />
<path d="M840 880C842.1 880.4 847.3 881 852.5 882.5C857.7 884 865.4 888 871 888.7C876.6 889.4 881.6 887.8 886 886.5C890.4 885.2 894.8 883.1 897.5 881C900.2 878.9 901.7 874.9 902.5 873.7" fill="none" stroke="#000" stroke-width="3.1" />
<path d="M851 820C851.3 825 853.5 841.3 853 850C852.5 858.7 850.2 867 848 872C845.8 877 841.3 878.7 840 880" fill="none" stroke="#000" stroke-width="2.3" />
<path d="M804.4 675L807.5 681.2L816.2 735L827.5 740L852.5 738.8L875 733.8L885 730L895 712.5L885.6 660L886.2 663.8Z" fill="#fdfdfd" stroke="#fdfdfd" stroke-width="0.1" />
<path d="M804.4 675L807.5 681.2L816.2 735" fill="none" stroke="#000" stroke-width="2.6" />
<path d="M886.2 663.8L885.6 660L895 712.5" fill="none" stroke="#000" stroke-width="2.6" />
<path d="M873.1 677.5L873.1 680L881.9 726.2" fill="none" stroke="#000" stroke-width="2.1" />
<path d="M816.2 735C818.1 735.8 823.5 739.2 827.5 740C831.5 740.8 835.8 740.2 840 740C844.2 739.8 846.7 739.8 852.5 738.8C858.3 737.7 869.6 735.2 875 733.8C880.4 732.3 883.3 730.6 885 730" fill="none" stroke="#000" stroke-width="2.6" />
<path d="M816.2 735C816.7 736.7 816.9 742.3 818.8 745C820.6 747.7 822.9 750 827.5 751.2C832.1 752.5 839 752.7 846.2 752.5C853.5 752.3 862.6 751 871.2 750C879.9 749 893.5 746.9 898 746.2" fill="none" stroke="#000" stroke-width="2.6" />
<path d="M820 740C821.2 741 823.1 745 827.5 746.2C831.9 747.5 839 748 846.2 747.8C853.5 747.5 864 746.1 871.2 745C878.5 743.9 886.9 741.9 890 741.2" fill="none" stroke="#000" stroke-width="1.8" />
<path d="M802.5 655C802.3 650.7 802.4 651 803.4 649.4C804.5 647.7 806.3 646.5 808.8 645C811.2 643.5 816.6 642.1 818.1 640.6C819.7 639.2 817.6 637.6 818.1 636.2C818.6 634.9 819.7 633.9 821.2 632.5C822.8 631.1 824.8 629.8 827.5 628.1C830.2 626.5 834.4 623.2 837.5 622.5C840.6 621.8 843.2 623.1 846.2 623.8C849.3 624.4 852.5 625.5 855.6 626.2C858.8 627 862.1 627.1 865 628.1C867.9 629.2 870.8 630.4 873.1 632.5C875.4 634.6 877.5 638 878.8 640.6C880 643.2 880 645.3 880.6 648.1C881.2 650.9 881.8 655.4 882.5 657.5C883.2 659.6 884.4 659.6 885 660.6C885.6 661.7 886.7 662.5 886.2 663.8C885.8 665 885 666 882.5 668.1C880 670.2 876.2 673.6 871.2 676.2C866.2 678.9 858.8 682.1 852.5 683.8C846.2 685.4 840 686.5 833.8 686.2C827.5 686 819.9 684.4 815 682.5C810.1 680.6 806.5 679.6 804.4 675C802.3 670.4 802.7 659.3 802.5 655Z" fill="#fdfdfd" stroke="#000" stroke-width="3.4" />
<path d="M803.4 676.2C805.2 677.6 808.7 682.4 813.8 684.4C818.8 686.4 827.3 688 833.8 688.2C840.2 688.5 845.9 687.5 852.5 685.8C859.1 684 867.9 680.5 873.1 677.6C878.3 674.7 882 669.8 883.8 668.2" fill="none" stroke="#000" stroke-width="2.3" />
<path d="M808.8 660C810.5 660.3 815.8 661.2 819.4 661.9C822.9 662.5 826.8 663.5 830 663.8C833.2 664 836 663.5 838.8 663.1C841.5 662.7 842.8 662.6 846.2 661.2C849.7 659.9 857.2 656 859.4 655" fill="none" stroke="#000" stroke-width="2.3" />
<path d="M810.6 675C810.3 672.5 808.8 664.2 808.8 660C808.8 655.8 809.4 652.3 810.6 650C811.9 647.7 815.3 646.9 816.2 646.2" fill="none" stroke="#000" stroke-width="2.3" />
<path d="M830 652.5C829.9 653.3 829.4 655.6 829.4 657.5C829.4 659.4 829.3 659.7 830 663.8C830.7 667.8 833.1 678.9 833.8 681.9" fill="none" stroke="#000" stroke-width="2.3" />
<path d="M830 652.5C830.8 652.2 833 650.9 835 650.6C837 650.3 839.8 649.9 841.9 650.6C844 651.4 846.1 653.4 847.5 655C848.9 656.6 849.3 656 850 660C850.7 664 851.6 675.6 851.9 678.8" fill="none" stroke="#000" stroke-width="2.3" />
<path d="M816.2 646.2C818.1 646.6 823.8 647.8 827.5 648.4C831.2 649.1 835.6 650.2 838.8 650C841.9 649.8 844 648.3 846.2 647.5C848.5 646.7 851.5 645.4 852.5 645" fill="none" stroke="#000" stroke-width="2.3" />
<path d="M838.8 650L841.9 650.6" fill="none" stroke="#000" stroke-width="2.1" />
<path d="M850 660L859.4 655" fill="none" stroke="#000" stroke-width="2.1" />
<path d="M856.2 636.2C857.2 637.5 860 641.2 861.9 643.8C863.8 646.2 866.6 650 867.5 651.2" fill="none" stroke="#000" stroke-width="2.1" />
<path d="M867.5 651.2L880 647.5" fill="none" stroke="#000" stroke-width="2.3" />
<path d="M847.5 635L866.2 629.4" fill="none" stroke="#000" stroke-width="2.3" />
<path d="M852.5 678.1L877.5 665" fill="none" stroke="#000" stroke-width="2.1" />
<path d="M852.5 635.6C853.4 636.4 856.6 638.2 858.1 640C859.7 641.8 860.7 643.8 861.9 646.2C863 648.8 864.1 651.1 865 655C865.9 658.9 867.1 667 867.5 669.4" fill="none" stroke="#000" stroke-width="6" />
<path d="M819.4 636.2C819.8 635.2 820.9 633.3 822.5 631.9C824.1 630.4 826.2 629.1 828.8 627.5C831.2 625.9 834.8 623.1 837.5 622.5C840.2 621.9 842.9 623 845 623.8C847.1 624.5 849.8 625.1 850 626.9C850.2 628.6 848.3 632.5 846.2 634.4C844.2 636.2 840.6 637.4 837.5 638.1C834.4 638.9 830.4 638.8 827.5 638.8C824.6 638.8 821.4 638.5 820 638.1C818.6 637.7 819 637.3 819.4 636.2Z" fill="#000" stroke="#000" stroke-width="2" />
<path d="M833.8 630L840 629.4L842.5 631.9L836.2 633.1Z" fill="#fdfdfd" stroke="#fdfdfd" stroke-width="1.3" />
<path d="M855.6 686.2L861.9 685L862.5 689.4L856.2 690.6Z" fill="none" stroke="#000" stroke-width="2.1" />
<path d="M715.6 678.8L721.2 675.6L733.1 671.2L745 669.4L758.1 671.9L794.4 689.4L796.9 695L790 716.9L752.5 725.6L745.6 726.2L711.9 707.5L708.8 698.8Z" fill="#fdfdfd" stroke="#000" stroke-width="3.1" />
<path d="M715.6 678.8L758.1 673.1L755 702.5L711.9 707.5Z" fill="none" stroke="#000" stroke-width="3.1" />
<path d="M719.4 683.1L755 677.5L752.5 700L716.2 703.8Z" fill="none" stroke="#000" stroke-width="2.1" />
<path d="M758.1 673.1L794.4 691.2" fill="none" stroke="#000" stroke-width="2.6" />
<path d="M755 702.5L782.5 718.8" fill="none" stroke="#000" stroke-width="2.6" />
<path d="M758.1 690L787.5 707.5" fill="none" stroke="#000" stroke-width="2" />
<path d="M731.2 695.6L752.5 699.8" fill="none" stroke="#000" stroke-width="5.2" />
<path d="M730 698.8L742.5 695L748.8 696.2" fill="none" stroke="#000" stroke-width="3.9" />
<path d="M760.6 690.6L776.2 698.5" fill="none" stroke="#000" stroke-width="4.7" />
<path d="M733.1 671.2L734 674.4" fill="none" stroke="#000" stroke-width="3.1" />
<path d="M745 669.4L745.9 672.8" fill="none" stroke="#000" stroke-width="3.1" />
<path d="M794.4 691.2L790 715" fill="none" stroke="#000" stroke-width="2" />
<path d="M797.5 696.9L810 702.5L810.6 708.1L802.5 707.5L796.2 705Z" fill="#000" stroke="#000" stroke-width="2" />
<path d="M802.5 703.8L808.8 705L808.8 707.5L803.1 706.9Z" fill="#fdfdfd" stroke="#fdfdfd" stroke-width="1.3" />
<path d="M795 710L812.5 715L813.1 720" fill="none" stroke="#000" stroke-width="2.9" />
<path d="M746.9 727.5L755 726.2L765 735L748.8 740L745 740Z" fill="#fdfdfd" stroke="#000" stroke-width="2.6" />
<path d="M767.5 728.1L793.8 725L798.8 726.2L796.2 731.2L770 733.1Z" fill="#fdfdfd" stroke="#000" stroke-width="3.1" />
<path d="M770 733.1L780 733.8L776.2 760L767.5 765L765 735Z" fill="#fdfdfd" stroke="#000" stroke-width="2.6" />
<path d="M780 733.8L785 735L790 763.1" fill="none" stroke="#000" stroke-width="2.6" />
<path d="M748.8 745L755 742.5L770 747.5L766.2 763.8L750 758.8Z" fill="#fdfdfd" stroke="#000" stroke-width="2.6" />
<path d="M750 746.2L733.8 756.2L730 761.2L733.8 765L755 772.5L757.5 780" fill="none" stroke="#000" stroke-width="2.6" />
<path d="M733.8 756.2L752.5 763.8" fill="none" stroke="#000" stroke-width="2" />
<path d="M793.8 725C795.2 724.5 799.3 722.7 802.5 721.9C805.7 721 811.4 720.3 813.1 720" fill="none" stroke="#000" stroke-width="2.6" />
<path d="M798.8 726.2C800 727.3 803.3 729.6 806.2 732.5C809.2 735.4 814.6 741.9 816.2 743.8" fill="none" stroke="#000" stroke-width="2.6" />
<path d="M790 735L802.5 738.8L815 746.2" fill="none" stroke="#000" stroke-width="2" />
<path d="M706.2 790L735 765L750 768.8L757.5 780L736.2 797.5L732.5 825L725 827L715 817.5L707.5 796.2Z" fill="#fdfdfd" stroke="#000" stroke-width="3.1" />
<path d="M707.5 793.8L736.2 770.5L750 773.8" fill="none" stroke="#000" stroke-width="3.9" />
<path d="M711.2 795.5L738.8 775" fill="none" stroke="#000" stroke-width="2.6" />
<path d="M715 797.5L721.2 822.5" fill="none" stroke="#000" stroke-width="2.6" />
<path d="M722.5 798.8L728.8 825" fill="none" stroke="#000" stroke-width="2.6" />
<path d="M715 797.5L722.5 798.8L753.8 781.2" fill="none" stroke="#000" stroke-width="2.6" />
<path d="M723.8 815L731.2 811.2" fill="none" stroke="#000" stroke-width="2.1" />
<path d="M775.2 780.3L779.3 775.4L784 771.4L789.2 768.7L794.8 767.1L800.7 766.8L806.7 767.7L812.7 769.8L818.6 773.2L824.3 777.6L829.6 783L834.5 789.4L838.8 796.5L842.4 804.2L845.3 812.4L847.4 820.9L848.6 829.5L849 838L848.5 846.2L847.1 854L844.9 861.2L841.9 867.7L838.2 873.3L833.9 877.8L828.9 881.3L798.2 892.1L794 894L789.6 895.2L785.1 895.5L780.4 895.1L775.6 894L771 892.1L766.3 889.4L761.9 886.1L757.6 882.2L753.7 877.6L750 872.6L746.7 867L743.9 861.1L741.5 854.9L739.5 848.5L738.1 841.9L737.2 835.3L736.9 828.8L737.1 822.4L737.9 816.2L739.2 810.3L741 804.8L743.3 799.7L746.1 795.2Z" fill="#fdfdfd" stroke="#fdfdfd" stroke-width="0.1" />
<path d="M776.7 780C777.3 779.3 779 777.2 780.2 776C781.4 774.8 782.7 773.7 784.1 772.7C785.5 771.8 786.9 771 788.3 770.3C789.8 769.6 791.3 769.1 792.9 768.7C794.4 768.3 796 768 797.6 767.9C799.2 767.8 800.8 767.9 802.5 768C804.1 768.2 805.8 768.5 807.4 769C809.1 769.5 810.7 770.1 812.4 770.8C814 771.5 815.7 772.4 817.3 773.4C818.9 774.4 820.5 775.6 822 776.8C823.6 778.1 825.1 779.5 826.5 781C828 782.5 829.4 784.1 830.8 785.8C832.1 787.5 833.4 789.3 834.7 791.2C835.9 793 837.1 795 838.2 797.1C839.3 799.1 840.3 801.2 841.2 803.4C842.1 805.6 843 807.8 843.7 810.1C844.5 812.4 845.2 814.7 845.7 817C846.3 819.3 846.8 821.7 847.1 824C847.5 826.4 847.8 828.8 848 831.1C848.1 833.4 848.2 835.8 848.2 838.1C848.2 840.4 848 842.7 847.8 844.9C847.6 847.1 847.3 849.3 846.8 851.4C846.4 853.5 845.9 855.6 845.3 857.5C844.6 859.5 843.9 861.4 843.1 863.2C842.3 865 841.4 866.7 840.5 868.3C839.5 869.9 838.4 871.4 837.3 872.8C836.2 874.1 835 875.4 833.7 876.5C832.4 877.7 830.4 879 829.7 879.5" fill="none" stroke="#000" stroke-width="3.6" />
<path d="M810.8 772.5C811.4 772.8 813.1 773.7 814.2 774.4C815.4 775.1 816.5 775.9 817.6 776.7C818.7 777.5 819.8 778.4 820.9 779.4C821.9 780.3 823 781.4 824 782.4C825 783.5 826 784.6 827 785.8C828 787 828.9 788.2 829.8 789.4C830.7 790.7 831.6 792 832.5 793.4C833.3 794.7 834.1 796.1 834.9 797.6C835.7 799 836.4 800.5 837.1 802C837.8 803.5 838.5 805 839.1 806.6C839.7 808.1 840.3 809.7 840.8 811.3C841.3 812.9 841.8 814.5 842.2 816.1C842.7 817.8 843.1 819.4 843.4 821.1C843.8 822.7 844 824.4 844.3 826C844.5 827.7 844.7 829.4 844.9 831C845 832.7 845.1 834.3 845.2 836C845.2 837.6 845.2 839.2 845.2 840.8C845.1 842.4 845 844 844.8 845.6C844.7 847.2 844.5 848.7 844.2 850.2C844 851.8 843.7 853.2 843.3 854.7C843 856.2 842.6 857.6 842.1 859C841.7 860.3 841.2 861.7 840.7 863C840.1 864.3 839.5 865.5 838.9 866.7C838.3 867.9 837.6 869.1 836.9 870.2C836.2 871.3 835.5 872.3 834.7 873.3C833.9 874.3 833.1 875.2 832.2 876.1C831.4 876.9 830.5 877.8 829.6 878.5C828.7 879.2 827.2 880.2 826.7 880.5" fill="none" stroke="#000" stroke-width="2.1" />
<path d="M807.9 774.5C808.4 774.8 810.1 775.7 811.2 776.4C812.4 777.1 813.5 777.8 814.6 778.6C815.7 779.4 816.7 780.3 817.8 781.3C818.8 782.2 819.9 783.2 820.9 784.2C821.9 785.3 822.9 786.4 823.8 787.5C824.8 788.7 825.7 789.9 826.6 791.1C827.5 792.3 828.4 793.6 829.2 795C830.1 796.3 830.9 797.7 831.6 799.1C832.4 800.5 833.1 801.9 833.8 803.4C834.5 804.8 835.2 806.3 835.8 807.9C836.4 809.4 836.9 810.9 837.4 812.5C838 814.1 838.4 815.7 838.9 817.3C839.3 818.9 839.7 820.5 840 822.1C840.3 823.7 840.6 825.3 840.9 827C841.1 828.6 841.3 830.2 841.4 831.8C841.6 833.5 841.7 835.1 841.7 836.7C841.8 838.3 841.7 839.9 841.7 841.5C841.6 843.1 841.5 844.6 841.4 846.2C841.2 847.7 841 849.2 840.7 850.7C840.5 852.2 840.2 853.7 839.8 855.1C839.5 856.5 839.1 857.9 838.7 859.3C838.2 860.6 837.7 861.9 837.2 863.2C836.7 864.5 836.1 865.7 835.5 866.9C834.8 868 834.2 869.2 833.5 870.3C832.8 871.3 832 872.4 831.3 873.3C830.5 874.3 829.7 875.2 828.8 876.1C828 876.9 827.1 877.7 826.2 878.5C825.3 879.2 823.8 880.1 823.4 880.5" fill="none" stroke="#000" stroke-width="3.9" />
<path d="M761.9 783.5C762.3 783 763.3 781.5 764 780.6C764.8 779.6 765.5 778.7 766.3 777.9C767.1 777.1 767.9 776.3 768.8 775.5C769.6 774.8 770.5 774.1 771.4 773.4C772.3 772.8 773.2 772.2 774.2 771.7C775.1 771.2 776.1 770.7 777.1 770.3C778.1 769.9 779.1 769.5 780.1 769.2C781.1 768.9 782.1 768.6 783.2 768.5C784.2 768.3 785.3 768.1 786.4 768.1C787.4 768 788.5 768 789.6 768C790.7 768.1 791.8 768.2 792.9 768.3C794 768.5 795.1 768.7 796.2 769C797.3 769.3 798.4 769.6 799.5 770C800.6 770.4 801.7 770.8 802.8 771.3C803.8 771.8 804.9 772.4 806 773C807.1 773.6 808.1 774.3 809.2 775C810.2 775.7 811.3 776.5 812.3 777.3C813.3 778.2 814.4 779 815.3 779.9C816.3 780.9 817.3 781.8 818.3 782.8C819.2 783.8 820.1 784.9 821.1 786C822 787.1 822.8 788.2 823.7 789.4C824.6 790.6 825.4 791.8 826.2 793C827 794.3 827.8 795.5 828.5 796.9C829.3 798.2 830 799.5 830.7 800.9C831.3 802.2 832 803.6 832.6 805.1C833.2 806.5 833.8 807.9 834.3 809.4C834.9 810.8 835.4 812.3 835.8 813.8C836.3 815.3 836.9 817.6 837.1 818.3" fill="none" stroke="#000" stroke-width="5.5" />
<path d="M760.5 783.7C760.9 783.2 762.1 781.7 763 780.7C763.9 779.8 764.8 778.9 765.8 778.1C766.7 777.3 767.7 776.6 768.7 775.9C769.7 775.2 770.8 774.6 771.8 774.1C772.9 773.6 774 773.1 775.1 772.7C776.2 772.3 777.4 772 778.5 771.8C779.7 771.5 780.8 771.3 782 771.2C783.2 771.1 784.4 771.1 785.6 771.2C786.8 771.2 788 771.3 789.3 771.5C790.5 771.7 791.7 772 792.9 772.3C794.1 772.6 795.4 773.1 796.6 773.5C797.8 774 799 774.6 800.2 775.2C801.4 775.8 802.6 776.5 803.8 777.3C805 778 806.1 778.8 807.3 779.7C808.4 780.6 809.5 781.5 810.7 782.5C811.8 783.5 812.8 784.6 813.9 785.7C815 786.9 816 788 817 789.3C818 790.5 819 791.8 819.9 793.1C820.8 794.4 821.7 795.8 822.6 797.2C823.5 798.6 824.3 800.1 825.1 801.6C825.9 803 826.6 804.6 827.3 806.1C828 807.7 828.7 809.3 829.3 810.9C829.9 812.5 830.5 814.1 831 815.8C831.5 817.4 832 819.1 832.4 820.8C832.9 822.5 833.2 824.2 833.6 825.9C833.9 827.6 834.2 829.3 834.4 831C834.6 832.7 834.8 834.4 834.9 836.1C835 837.8 835.1 840.4 835.1 841.2" fill="none" stroke="#000" stroke-width="2.1" />
<path d="M759 786C759.6 785.5 761.3 783.8 762.6 782.9C763.9 781.9 765.2 781.1 766.6 780.4C768 779.7 769.4 779.1 770.8 778.7C772.3 778.2 773.8 777.9 775.3 777.7C776.8 777.5 778.4 777.4 779.9 777.5C781.5 777.5 783.1 777.7 784.6 778C786.2 778.4 787.8 778.8 789.4 779.4C790.9 779.9 792.5 780.6 794 781.4C795.6 782.2 797.1 783.2 798.6 784.2C800.1 785.3 801.6 786.4 803.1 787.7C804.5 788.9 805.9 790.3 807.3 791.8C808.6 793.2 809.9 794.8 811.2 796.4C812.4 798.1 813.6 799.8 814.8 801.6C815.9 803.4 817 805.3 817.9 807.3C818.9 809.2 819.9 811.2 820.7 813.2C821.6 815.3 822.3 817.4 823 819.5C823.7 821.7 824.3 823.8 824.8 826C825.4 828.2 825.8 830.4 826.1 832.6C826.5 834.8 826.7 837 826.9 839.2C827 841.4 827.1 843.6 827.1 845.7C827.1 847.9 827 850 826.7 852.1C826.5 854.2 826.2 856.3 825.9 858.3C825.5 860.3 825 862.2 824.4 864.1C823.9 866 823.2 867.8 822.5 869.5C821.8 871.2 820.9 872.9 820.1 874.5C819.2 876 818.2 877.5 817.2 878.8C816.1 880.2 815 881.5 813.9 882.6C812.7 883.8 810.8 885.2 810.2 885.8" fill="none" stroke="#000" stroke-width="4.9" />
<path d="M763.5 782C764.1 781.6 765.8 780.1 767 779.3C768.2 778.4 769.4 777.7 770.7 777.1C772 776.5 773.3 775.9 774.7 775.5C776 775.1 777.4 774.8 778.8 774.6C780.2 774.4 781.6 774.3 783.1 774.3C784.5 774.4 785.9 774.5 787.4 774.7C788.9 774.9 790.3 775.3 791.8 775.7C793.2 776.2 794.7 776.7 796.2 777.4C797.6 778 799 778.8 800.5 779.7C801.9 780.5 803.3 781.5 804.7 782.5C806 783.6 807.4 784.7 808.7 785.9C810 787.2 811.3 788.5 812.5 789.9C813.8 791.3 815 792.7 816.1 794.3C817.3 795.8 818.4 797.5 819.4 799.1C820.5 800.8 821.5 802.5 822.4 804.3C823.3 806.1 824.2 808 825 809.9C825.8 811.7 826.6 813.7 827.2 815.6C827.9 817.6 828.5 819.6 829 821.6C829.6 823.6 830 825.6 830.4 827.7C830.8 829.7 831.1 831.8 831.4 833.8C831.6 835.8 831.8 837.9 831.8 839.9C831.9 841.9 831.9 844 831.9 846C831.8 847.9 831.6 849.9 831.4 851.8C831.2 853.7 830.9 855.6 830.5 857.5C830.1 859.3 829.7 861.1 829.1 862.9C828.6 864.6 828 866.3 827.3 867.9C826.7 869.5 825.9 871 825.1 872.5C824.3 874 823 876 822.6 876.7" fill="none" stroke="#000" stroke-width="2.3" />
<path d="M764.9 781.4C765.5 781.2 767.4 780.5 768.7 780.2C770 779.9 771.4 779.7 772.7 779.6C774.1 779.4 775.4 779.4 776.8 779.5C778.2 779.6 779.6 779.8 781 780.1C782.4 780.4 783.8 780.8 785.2 781.3C786.5 781.8 787.9 782.4 789.3 783.1C790.7 783.7 792 784.5 793.4 785.4C794.7 786.2 796 787.2 797.3 788.2C798.6 789.3 799.9 790.4 801.1 791.6C802.4 792.8 803.6 794.1 804.7 795.4C805.9 796.8 807 798.2 808.1 799.7C809.2 801.2 810.2 802.8 811.2 804.4C812.2 806 813.1 807.6 814 809.3C814.9 811.1 815.7 812.8 816.5 814.6C817.2 816.4 817.9 818.3 818.6 820.1C819.2 822 819.8 823.9 820.3 825.8C820.8 827.7 821.2 829.7 821.6 831.6C822 833.5 822.3 835.5 822.5 837.4C822.8 839.4 822.9 841.3 823 843.2C823.1 845.2 823.1 847.1 823.1 849C823 850.9 822.9 852.8 822.7 854.6C822.5 856.4 822.2 858.3 821.9 860C821.6 861.8 821.2 863.5 820.7 865.2C820.2 866.9 819.7 868.5 819.1 870.1C818.5 871.6 817.8 873.1 817.1 874.6C816.3 876 815.6 877.4 814.7 878.7C813.9 880 813 881.2 812 882.3C811 883.4 809.5 885 809 885.5" fill="none" stroke="#000" stroke-width="1.8" />
<ellipse cx="777.5" cy="838.8" rx="39.2" ry="57.8" transform="rotate(-14.4 777.5 838.8)" fill="#fdfdfd" stroke="#000" stroke-width="4.4"/>
<path d="M742.5 828.8L785 806.2" fill="none" stroke="#000" stroke-width="2.9" />
<path d="M786.2 806.2C786.7 808.1 787.5 813.5 788.8 817.5C790 821.5 791.5 825.6 793.8 830C796 834.4 799 839.4 802.5 843.8C806 848.1 812.9 854.2 815 856.2" fill="none" stroke="#000" stroke-width="2.6" />
<path d="M766.2 793.8C767.5 792.6 771.9 791.2 775 792.5C778.1 793.8 784.6 799.7 785 801.2C785.4 802.8 780.4 802.2 777.5 801.9C774.6 801.6 769.4 800.7 767.5 799.4C765.6 798 765 794.9 766.2 793.8Z" fill="#000" stroke="#000" stroke-width="3.1" />
<path d="M771.2 795.6C771.7 794.9 775.8 795 777.5 795.6C779.2 796.2 781.7 798.7 781.2 799.4C780.8 800.1 776.7 800.4 775 799.8C773.3 799.1 770.8 796.3 771.2 795.6Z" fill="#fdfdfd" stroke="#fdfdfd" stroke-width="1.3" />
<path d="M837.5 820L851.2 821.2L863.8 820.6" fill="none" stroke="#000" stroke-width="2.9" />
<path d="M828.8 846.2L838.8 840" fill="none" stroke="#000" stroke-width="2.3" />
<path d="M827.5 887.5C829.6 886.5 836 882 840 881.2C844 880.5 849.4 882.5 851.2 882.8" fill="none" stroke="#000" stroke-width="2.9" />
<path d="M885.6 718.8L908.8 721.9L910.6 732.5L887.5 735.6Z" fill="#000" stroke="#000" stroke-width="2" />
<path d="M890.6 726.2L900 725L906.9 727.5L906.2 731.2L891.2 732.5Z" fill="#fdfdfd" stroke="#fdfdfd" stroke-width="1.3" />
<path d="M900 725L900.6 731.5" fill="none" stroke="#000" stroke-width="1.8" />
<path d="M886.2 735.6C890.6 735.1 907.7 730.1 912.5 732.5C917.3 734.9 915.2 745.8 915 750C914.8 754.2 913.3 755.5 911.2 757.5C909.2 759.5 905.8 761 902.5 761.9C899.2 762.7 893.1 762.4 891.2 762.5" fill="#fdfdfd" stroke="#000" stroke-width="2.6" />
<path d="M891.2 737.5C893.1 737.9 899 740.4 902.5 740C906 739.6 910.8 735.8 912.5 735" fill="none" stroke="#000" stroke-width="2" />
<path d="M871.2 753.8L883.8 752.5L885 762.5L872.5 763.8Z" fill="none" stroke="#000" stroke-width="2.6" />
<path d="M875 731.2L887.5 726.2" fill="none" stroke="#000" stroke-width="2.9" />
<path d="M873.8 735L886.2 736.2" fill="none" stroke="#000" stroke-width="2.1" />
<path d="M850 741.2L872.5 738.1L897.5 742.5" fill="none" stroke="#000" stroke-width="2.1" />
<path d="M850 748.1L897.5 745L898.8 753.1" fill="none" stroke="#000" stroke-width="2.1" />
<path d="M908.8 725L930 748.8L942.5 742.5" fill="none" stroke="#000" stroke-width="3.1" />
<path d="M912.5 734.4L927.5 751.9" fill="none" stroke="#000" stroke-width="2.3" />
<path d="M930 748.8L931.2 753.8L943.8 750" fill="none" stroke="#000" stroke-width="2.1" />
<path d="M870 752.5L887.5 752L890 762.5L872.5 763Z" fill="none" stroke="#000" stroke-width="2.6" />
<path d="M872.5 820C871 818.3 865.8 814.2 863.8 810C861.7 805.8 860.4 799.2 860 795C859.6 790.8 860.2 788.1 861.2 785C862.3 781.9 864 778.5 866.2 776.2C868.5 774 871.7 771.8 875 771.2C878.3 770.7 883.3 771.7 886.2 772.8C889.2 773.8 891.5 776.7 892.5 777.5" fill="none" stroke="#000" stroke-width="5.1" />
<path d="M866.2 787.5C867.1 786.2 869.2 781.7 871.2 780C873.3 778.3 876.2 777.3 878.8 777.5C881.2 777.7 886.7 779.4 886.2 781.2C885.8 783.1 879.2 786.5 876.2 788.8C873.3 791 870.4 795.2 868.8 795C867.1 794.8 866.7 788.8 866.2 787.5" fill="none" stroke="#000" stroke-width="3.1" />
<path d="M868.8 795C869.8 796.2 872.7 800.8 875 802.5C877.3 804.2 881.2 804.6 882.5 805" fill="none" stroke="#000" stroke-width="2.9" />
<path d="M878.8 792.5C880.2 791.7 884.4 788.1 887.5 787.5C890.6 786.9 895.2 787.7 897.5 788.8C899.8 789.8 902.1 791.9 901.2 793.8C900.4 795.6 895.2 798.8 892.5 800C889.8 801.2 886.2 801 885 801.2" fill="none" stroke="#000" stroke-width="2.6" />
<path d="M891.2 771.2C891 772 895 777.9 897.5 781.2C900 784.6 903.3 788.9 906.2 791.2C909.2 793.6 911.9 795.3 915 795.6C918.1 795.9 922.4 795.1 925 793.1C927.6 791.1 930.4 786.6 930.6 783.8C930.8 780.9 928 778.2 926.2 776.2C924.5 774.3 922.7 772.7 920 771.9C917.3 771 912.5 770.5 910 771.2C907.5 772 906.9 775.3 905 776.2C903.1 777.2 901 777.7 898.8 776.9C896.5 776 891.5 770.5 891.2 771.2Z" fill="#fdfdfd" stroke="#000" stroke-width="3.4" />
<path d="M887.5 777.5C888.8 779.2 892.1 784 895 787.5C897.9 791 901.7 796.2 905 798.8C908.3 801.2 911.5 802.3 915 802.5C918.5 802.7 923.3 801.7 926.2 800C929.2 798.3 931.5 793.8 932.5 792.5" fill="none" stroke="#000" stroke-width="3.4" />
<ellipse cx="919.4" cy="783.1" rx="4.6" ry="5.2" transform="rotate(20 919.4 783.1)" fill="none" stroke="#000" stroke-width="3.1"/>
<ellipse cx="910.2" cy="779" rx="2.6" ry="3.4" transform="rotate(20 910.2 779)" fill="none" stroke="#000" stroke-width="3.1"/>
<path d="M893.8 770L902.5 769.4L908.8 766.9" fill="none" stroke="#000" stroke-width="3.1" />
<path d="M891.2 766.9L915 765" fill="none" stroke="#000" stroke-width="2.1" />
<path d="M930 777.5C931 776.5 934.2 773 936.2 771.2C938.3 769.5 940.2 768.1 942.5 766.9C944.8 765.6 947.7 764.5 950 763.8C952.3 763 955.2 762.7 956.2 762.5" fill="none" stroke="#000" stroke-width="3.9" />
<path d="M932.5 782.5C933.8 781.2 937.3 777.1 940 775C942.7 772.9 946 771.1 948.8 770C951.5 768.9 955 768.4 956.2 768.1" fill="none" stroke="#000" stroke-width="2.3" />
<path d="M927.5 810C927.7 808.8 927.9 804.8 928.8 802.5C929.6 800.2 931 798 932.5 796.2C934 794.5 935.4 793 937.5 791.9C939.6 790.7 942.5 790 945 789.4C947.5 788.8 950.2 788.2 952.5 788.1C954.8 788 957.7 788.6 958.8 788.8" fill="none" stroke="#000" stroke-width="3.9" />
<path d="M936.2 816.2C936.5 814.8 936.5 810.2 937.5 807.5C938.5 804.8 940.6 801.9 942.5 800C944.4 798.1 946.5 797.1 948.8 796.2C951 795.4 955 795.2 956.2 795" fill="none" stroke="#000" stroke-width="2.6" />
<path d="M920 798.8C920.8 799.8 924 802.3 925 805C926 807.7 926.5 811.7 926.2 815C926 818.3 924.2 823.3 923.8 825" fill="none" stroke="#000" stroke-width="3.4" />
<ellipse cx="956.2" cy="778.8" rx="1.8" ry="3.6" transform="rotate(10 956.2 778.8)" fill="none" stroke="#000" stroke-width="2.6"/>
<ellipse cx="956.9" cy="820" rx="14.2" ry="15.2" transform="rotate(10 956.9 820)" fill="#fdfdfd" stroke="#000" stroke-width="3.4"/>
<ellipse cx="957.5" cy="820.2" rx="10.4" ry="11.4" transform="rotate(10 957.5 820.2)" fill="none" stroke="#000" stroke-width="5.2"/>
<ellipse cx="958.5" cy="820.6" rx="7.2" ry="8" transform="rotate(10 958.5 820.6)" fill="#000" stroke="#000" stroke-width="3.9"/>
<ellipse cx="956.5" cy="820" rx="2.4" ry="3.6" transform="rotate(10 956.5 820)" fill="#fdfdfd" stroke="#000" stroke-width="1.3"/>
<path d="M937.5 815C937.3 816.7 935.8 821.7 936.2 825C936.7 828.3 938.5 832.5 940 835C941.5 837.5 944.2 839.2 945 840" fill="none" stroke="#000" stroke-width="2.6" />
<path d="M861.9 810L920 874" fill="none" stroke="#000" stroke-width="4.3" />
<path d="M866.2 807.5L925 872.8" fill="none" stroke="#000" stroke-width="2.1" />
<path d="M872.5 805L930 869" fill="none" stroke="#000" stroke-width="3.9" />
<path d="M876.9 796.2L885 805L891.2 817.5L937.5 866.5" fill="none" stroke="#000" stroke-width="2.6" />
<path d="M857.5 815L910 875L927.5 877.5" fill="none" stroke="#000" stroke-width="2.3" />
<path d="M891.2 817.5L893.8 815L920 847.5" fill="none" stroke="#000" stroke-width="2.1" />
<path d="M920 798.8C919.6 799.8 917.5 802.3 917.5 805C917.5 807.7 920 812.1 920 815C920 817.9 917.9 821.2 917.5 822.5" fill="none" stroke="#000" stroke-width="4.2" />
<path d="M902.5 797.5C902.9 798.8 905 802.1 905 805C905 807.9 902.5 811.2 902.5 815C902.5 818.8 902.9 823.3 905 827.5C907.1 831.7 912.5 836.7 915 840C917.5 843.3 919.2 846.2 920 847.5" fill="none" stroke="#000" stroke-width="2.9" />
<path d="M926.2 827.5C926.9 828.8 928.1 832.5 930 835C931.9 837.5 936.2 841.2 937.5 842.5" fill="none" stroke="#000" stroke-width="3.9" />
<path d="M862.5 798.8L872.5 810L880 806.2" fill="none" stroke="#000" stroke-width="3.9" />
<path d="M891.2 777.5L902.5 792.5L912.5 798.8" fill="none" stroke="#000" stroke-width="2.6" />
<ellipse cx="910" cy="810.6" rx="5.6" ry="6.6" transform="rotate(0 910 810.6)" fill="none" stroke="#000" stroke-width="3.4"/>
<ellipse cx="911.5" cy="810" rx="2.6" ry="3.6" transform="rotate(0 911.5 810)" fill="#000" stroke="#000" stroke-width="2.9"/>
<ellipse cx="908.8" cy="826.2" rx="4.2" ry="5" transform="rotate(0 908.8 826.2)" fill="none" stroke="#000" stroke-width="3.6"/>
<path d="M917.5 820C918.6 819.2 922.5 820.8 925 822.5C927.5 824.2 930.8 827.1 932.5 830C934.2 832.9 935.8 837.7 935 840C934.2 842.3 929.8 844.4 927.5 843.8C925.2 843.1 922.8 839 921.2 836.2C919.7 833.5 918.8 830.2 918.1 827.5C917.5 824.8 916.4 820.8 917.5 820Z" fill="none" stroke="#000" stroke-width="3.4" />
<path d="M920 826.2L927.5 827.5L931.2 836.2L925 838.8Z" fill="#000" stroke="#000" stroke-width="1.6" />
<ellipse cx="923.5" cy="850.6" rx="3.6" ry="5.2" transform="rotate(10 923.5 850.6)" fill="none" stroke="#000" stroke-width="3.1"/>
<path d="M922.5 847.5L924.4 853.8" fill="none" stroke="#000" stroke-width="1.8" />
<path d="M937.5 842.5L943.8 843.8L940.2 867.5" fill="none" stroke="#000" stroke-width="3.1" />
<path d="M937.5 842.5L936.2 865L931.2 870" fill="none" stroke="#000" stroke-width="2.6" />
<path d="M940.2 867.5C941.9 867.3 946.7 867.2 950 866.2C953.3 865.3 956.7 864.1 960 861.9C963.3 859.7 968.3 854.6 970 853.1" fill="none" stroke="#000" stroke-width="2.9" />
<path d="M942.5 872.8C944.4 872.5 950.2 872.2 953.8 871.2C957.3 870.3 960.4 868.9 963.8 866.9C967.1 864.9 972.1 860.6 973.8 859.4" fill="none" stroke="#000" stroke-width="2.3" />
<path d="M947.5 877.5C949.2 877.3 954.2 877.3 957.5 876.5C960.8 875.7 964.4 874.4 967.5 872.8C970.6 871.1 974.8 867.9 976.2 866.9" fill="none" stroke="#000" stroke-width="2.3" />
<path d="M931.2 870C932.7 871 936.9 874.4 940 876.2C943.1 878.1 948.3 880.4 950 881.2" fill="none" stroke="#000" stroke-width="2.6" />
<path d="M906.2 875C907.7 875.2 911.9 876.1 915 876.2C918.1 876.4 922.1 876.7 925 875.6C927.9 874.6 931.2 870.9 932.5 870" fill="none" stroke="#000" stroke-width="2.6" />
<path d="M902.5 870C903.5 871.2 905.8 875 908.8 877.5C911.7 880 915.2 883.3 920 885C924.8 886.7 934.6 887.3 937.5 887.8" fill="none" stroke="#000" stroke-width="2.6" />
<g fill="url(#dots)" stroke="none" opacity="0.62">
<path d="M662 628 H722 Q730 628 728 636 L726 646 H690 Q682 646 682 652 Q682 658 692 659 L712 662 Q730 666 727 684 L650 684 Q648 676 652 668 Q650 660 651 650 Q652 630 662 628Z"/>
<path d="M742 628 H925 Q930 628 929 634 L924 684 H734 Z"/>
<path d="M646 684 H850 L846 738 H652 Q642 738 643 728 Z"/>
<path d="M915 697 H962 Q966 697 965 702 L962 724 H912 Z"/>
</g>
<line x1="383.7" y1="1065" x2="803" y2="825" stroke="#000" stroke-width="1.1" />
<path d="M768.7 341.2L777.5 357.5L777.5 377.5L763.8 395" fill="none" stroke="#000" stroke-width="1.2" />
<path d="M672.5 577.5L689.4 553.8L689.4 514.4L678.8 491.2" fill="none" stroke="#000" stroke-width="1.2" />
<line x1="579.5" y1="33.5" x2="537" y2="104" stroke="#000" stroke-width="1.2" />
<line x1="635" y1="33" x2="668" y2="77" stroke="#000" stroke-width="1.2" />
<line x1="915.8" y1="33.8" x2="859" y2="110" stroke="#000" stroke-width="1.2" />
<line x1="960.8" y1="35.5" x2="920" y2="119.5" stroke="#000" stroke-width="1.2" />
<line x1="1008" y1="35" x2="1044.5" y2="156" stroke="#000" stroke-width="1.2" />
<line x1="690" y1="188.1" x2="711.2" y2="226.2" stroke="#000" stroke-width="1.2" />
<line x1="337.3" y1="352" x2="389.5" y2="359.5" stroke="#000" stroke-width="1.2" />
<line x1="334" y1="398" x2="422" y2="450" stroke="#000" stroke-width="1.2" />
<line x1="1459" y1="156" x2="1425" y2="208" stroke="#000" stroke-width="1.2" />
<line x1="1497" y1="156" x2="1470" y2="211" stroke="#000" stroke-width="1.2" />
<line x1="1546.5" y1="158" x2="1561" y2="214" stroke="#000" stroke-width="1.2" />
<line x1="1590" y1="155.5" x2="1636" y2="222" stroke="#000" stroke-width="1.2" />
<line x1="703.5" y1="387.5" x2="676" y2="330" stroke="#000" stroke-width="1.2" />
<line x1="973.1" y1="359.4" x2="937.5" y2="313.8" stroke="#000" stroke-width="1.2" />
<line x1="1015" y1="358.5" x2="981.7" y2="260" stroke="#000" stroke-width="1.2" />
<line x1="1032.5" y1="359.4" x2="1080.6" y2="310" stroke="#000" stroke-width="1.2" />
<line x1="608.8" y1="570" x2="582.5" y2="528" stroke="#000" stroke-width="1.2" />
<line x1="1470" y1="497.5" x2="1456.9" y2="463.8" stroke="#000" stroke-width="1.2" />
<line x1="1527.5" y1="498.8" x2="1560.6" y2="443.8" stroke="#000" stroke-width="1.2" />
<line x1="1077.5" y1="780.5" x2="1113.5" y2="780.5" stroke="#000" stroke-width="1.2" />
<line x1="675" y1="1022.5" x2="700" y2="1060" stroke="#000" stroke-width="1.2" />
<line x1="932" y1="647" x2="892.5" y2="680" stroke="#000" stroke-width="1.2" />
<line x1="676.5" y1="714.5" x2="712.5" y2="692.5" stroke="#000" stroke-width="1.2" />
<line x1="676.5" y1="770.5" x2="707.5" y2="790" stroke="#000" stroke-width="1.2" />
<line x1="1035" y1="872" x2="1007" y2="844.5" stroke="#000" stroke-width="1.2" />
<line x1="360" y1="1095.6" x2="395" y2="1076" stroke="#000" stroke-width="1.2" />
<line x1="193.7" y1="1317.5" x2="165" y2="1278.7" stroke="#000" stroke-width="1.2" />
<circle cx="588.5" cy="18.5" r="17.8" fill="#fdfdfd" stroke="#000" stroke-width="1.1"/>
<text x="588.5" y="26.7" class="lb">3</text>
<circle cx="626.5" cy="18.5" r="17.8" fill="#fdfdfd" stroke="#000" stroke-width="1.1"/>
<text x="626.5" y="26.7" class="lb">6</text>
<circle cx="928.3" cy="18" r="17.8" fill="#fdfdfd" stroke="#000" stroke-width="1.1"/>
<text x="928.3" y="26.2" class="lb">3</text>
<circle cx="965.8" cy="18" r="17.8" fill="#fdfdfd" stroke="#000" stroke-width="1.1"/>
<text y="26.2" class="lb"><tspan x="959.1">2</tspan><tspan x="971.9">0</tspan></text>
<circle cx="1004" cy="18" r="17.8" fill="#fdfdfd" stroke="#000" stroke-width="1.1"/>
<text x="1004" y="26.2" class="lb">4</text>
<circle cx="680" cy="172" r="17.8" fill="#fdfdfd" stroke="#000" stroke-width="1.1"/>
<text x="680" y="180.2" class="lb">8</text>
<circle cx="708.8" cy="404.6" r="17.8" fill="#fdfdfd" stroke="#000" stroke-width="1.1"/>
<text x="708.8" y="412.8" class="lb">9</text>
<circle cx="746.2" cy="404.6" r="17.8" fill="#fdfdfd" stroke="#000" stroke-width="1.1"/>
<text y="412.8" class="lb"><tspan x="739.6">1</tspan><tspan x="752.3">7</tspan></text>
<rect x="733.3" y="409.7" width="5.1" height="4.8" fill="#fdfdfd"/>
<rect x="741.6" y="409.7" width="5.1" height="4.8" fill="#fdfdfd"/>
<circle cx="983.5" cy="375.6" r="17.8" fill="#fdfdfd" stroke="#000" stroke-width="1.1"/>
<text x="983.5" y="383.8" class="lb">7</text>
<circle cx="1020.9" cy="375.6" r="17.8" fill="#fdfdfd" stroke="#000" stroke-width="1.1"/>
<text y="383.8" class="lb"><tspan x="1014.2">1</tspan><tspan x="1027">7</tspan></text>
<rect x="1008" y="380.7" width="5.1" height="4.8" fill="#fdfdfd"/>
<rect x="1016.2" y="380.7" width="5.1" height="4.8" fill="#fdfdfd"/>
<circle cx="618.1" cy="587.5" r="17.8" fill="#fdfdfd" stroke="#000" stroke-width="1.1"/>
<text y="595.7" class="lb"><tspan x="611.5">1</tspan><tspan x="624.2">1</tspan></text>
<rect x="605.2" y="592.6" width="5.1" height="4.8" fill="#fdfdfd"/>
<rect x="613.5" y="592.6" width="5.1" height="4.8" fill="#fdfdfd"/>
<rect x="617.9" y="592.6" width="5.1" height="4.8" fill="#fdfdfd"/>
<rect x="626.2" y="592.6" width="5.1" height="4.8" fill="#fdfdfd"/>
<circle cx="655.9" cy="587.5" r="17.8" fill="#fdfdfd" stroke="#000" stroke-width="1.1"/>
<text y="595.7" class="lb"><tspan x="649.2">1</tspan><tspan x="662">0</tspan></text>
<rect x="643" y="592.6" width="5.1" height="4.8" fill="#fdfdfd"/>
<rect x="651.2" y="592.6" width="5.1" height="4.8" fill="#fdfdfd"/>
<circle cx="946" cy="634.8" r="17.8" fill="#fdfdfd" stroke="#000" stroke-width="1.1"/>
<text y="643" class="lb"><tspan x="939.4">2</tspan><tspan x="952.1">3</tspan></text>
<circle cx="320.4" cy="350.4" r="17.8" fill="#fdfdfd" stroke="#000" stroke-width="1.1"/>
<text x="320.4" y="358.6" class="lb">1</text>
<rect x="314.1" y="355.5" width="5.1" height="4.8" fill="#fdfdfd"/>
<rect x="322.4" y="355.5" width="5.1" height="4.8" fill="#fdfdfd"/>
<circle cx="320.4" cy="387.8" r="17.8" fill="#fdfdfd" stroke="#000" stroke-width="1.1"/>
<text x="320.4" y="396" class="lb">2</text>
<circle cx="1468" cy="140.5" r="17.8" fill="#fdfdfd" stroke="#000" stroke-width="1.1"/>
<text x="1468" y="148.7" class="lb">5</text>
<circle cx="1505.5" cy="140.5" r="17.8" fill="#fdfdfd" stroke="#000" stroke-width="1.1"/>
<text y="148.7" class="lb"><tspan x="1498.9">1</tspan><tspan x="1511.5">7</tspan></text>
<rect x="1492.6" y="145.6" width="5.1" height="4.8" fill="#fdfdfd"/>
<rect x="1500.9" y="145.6" width="5.1" height="4.8" fill="#fdfdfd"/>
<circle cx="1543.5" cy="140.5" r="17.8" fill="#fdfdfd" stroke="#000" stroke-width="1.1"/>
<text y="148.7" class="lb"><tspan x="1536.9">1</tspan><tspan x="1549.5">9</tspan></text>
<rect x="1530.6" y="145.6" width="5.1" height="4.8" fill="#fdfdfd"/>
<rect x="1538.9" y="145.6" width="5.1" height="4.8" fill="#fdfdfd"/>
<circle cx="1581" cy="140.5" r="17.8" fill="#fdfdfd" stroke="#000" stroke-width="1.1"/>
<text x="1581" y="148.7" class="lb">8</text>
<circle cx="1479.4" cy="515.1" r="17.8" fill="#fdfdfd" stroke="#000" stroke-width="1.1"/>
<text y="523.3" class="lb"><tspan x="1472.8">1</tspan><tspan x="1485.5">8</tspan></text>
<rect x="1466.5" y="520.2" width="5.1" height="4.8" fill="#fdfdfd"/>
<rect x="1474.8" y="520.2" width="5.1" height="4.8" fill="#fdfdfd"/>
<circle cx="1517.2" cy="515.1" r="17.8" fill="#fdfdfd" stroke="#000" stroke-width="1.1"/>
<text y="523.3" class="lb"><tspan x="1510.6">1</tspan><tspan x="1523.2">0</tspan></text>
<rect x="1504.3" y="520.2" width="5.1" height="4.8" fill="#fdfdfd"/>
<rect x="1512.6" y="520.2" width="5.1" height="4.8" fill="#fdfdfd"/>
<circle cx="661.9" cy="724" r="17.8" fill="#fdfdfd" stroke="#000" stroke-width="1.1"/>
<text y="732.2" class="lb"><tspan x="655.2">2</tspan><tspan x="668">2</tspan></text>
<circle cx="661.9" cy="761.2" r="17.8" fill="#fdfdfd" stroke="#000" stroke-width="1.1"/>
<text y="769.4" class="lb"><tspan x="655.2">2</tspan><tspan x="668">1</tspan></text>
<rect x="661.7" y="766.3" width="5.1" height="4.8" fill="#fdfdfd"/>
<rect x="670" y="766.3" width="5.1" height="4.8" fill="#fdfdfd"/>
<circle cx="1131.5" cy="780.6" r="17.8" fill="#fdfdfd" stroke="#000" stroke-width="1.1"/>
<text y="788.8" class="lb"><tspan x="1124.9">1</tspan><tspan x="1137.5">3</tspan></text>
<rect x="1118.6" y="785.7" width="5.1" height="4.8" fill="#fdfdfd"/>
<rect x="1126.9" y="785.7" width="5.1" height="4.8" fill="#fdfdfd"/>
<circle cx="1046.3" cy="886.9" r="17.8" fill="#fdfdfd" stroke="#000" stroke-width="1.1"/>
<text y="895.1" class="lb"><tspan x="1039.7">2</tspan><tspan x="1052.3">4</tspan></text>
<circle cx="712.5" cy="1076.2" r="17.8" fill="#fdfdfd" stroke="#000" stroke-width="1.1"/>
<text y="1084.4" class="lb"><tspan x="705.9">1</tspan><tspan x="718.6">4</tspan></text>
<rect x="699.6" y="1081.3" width="5.1" height="4.8" fill="#fdfdfd"/>
<rect x="707.9" y="1081.3" width="5.1" height="4.8" fill="#fdfdfd"/>
<circle cx="345.7" cy="1106.2" r="17.8" fill="#fdfdfd" stroke="#000" stroke-width="1.1"/>
<text y="1114.4" class="lb"><tspan x="339">1</tspan><tspan x="351.8">5</tspan></text>
<rect x="332.7" y="1111.3" width="5.1" height="4.8" fill="#fdfdfd"/>
<rect x="341" y="1111.3" width="5.1" height="4.8" fill="#fdfdfd"/>
<circle cx="204.2" cy="1333.2" r="17.8" fill="#fdfdfd" stroke="#000" stroke-width="1.1"/>
<text x="204.2" y="1341.4" class="lb">1</text>
<rect x="197.9" y="1338.3" width="5.1" height="4.8" fill="#fdfdfd"/>
<rect x="206.2" y="1338.3" width="5.1" height="4.8" fill="#fdfdfd"/>
</svg>
<div class="cp">&copy; Copyright 2019 Betamotor S.p.A.</div>
</body></html>
